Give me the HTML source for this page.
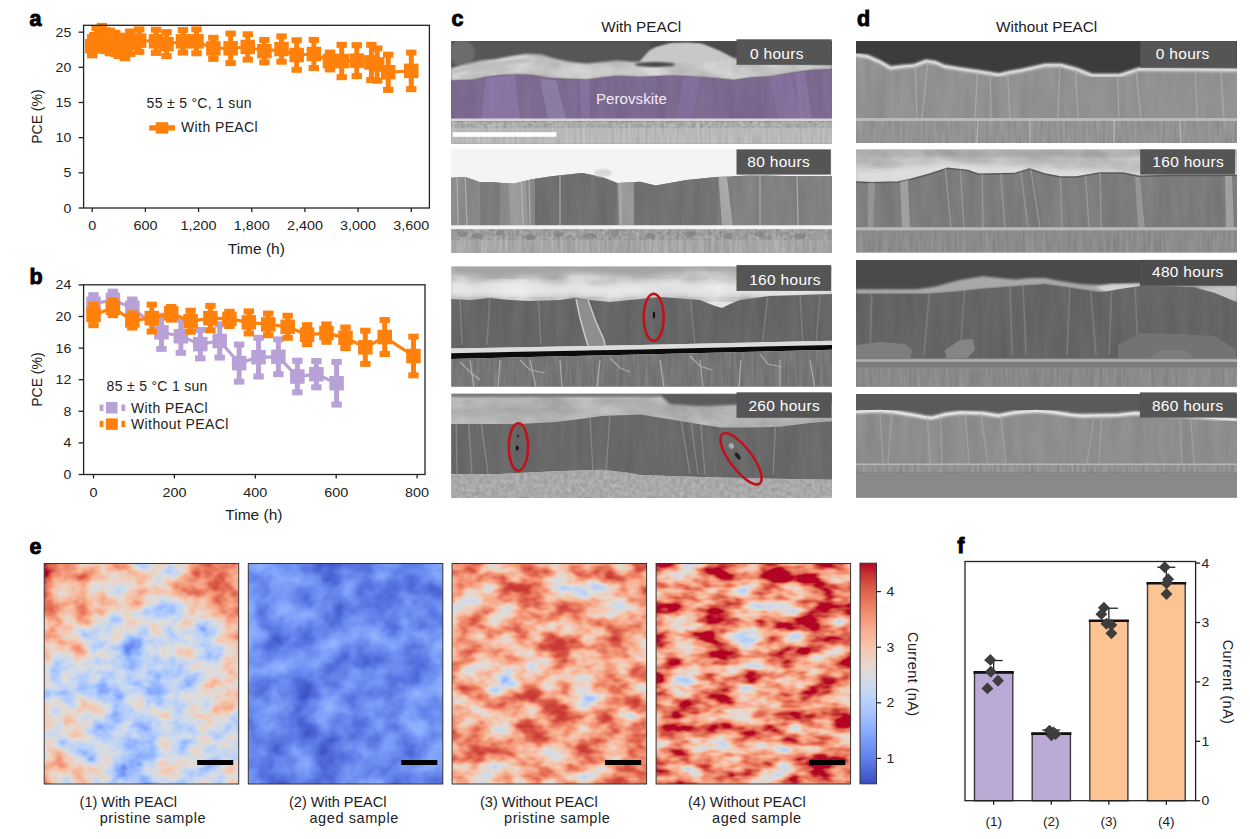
<!DOCTYPE html>
<html><head><meta charset="utf-8"><title>Figure</title>
<style>
html,body{margin:0;padding:0;background:#fff;width:1250px;height:839px;overflow:hidden;}
svg{display:block;font-family:"Liberation Sans", sans-serif;}
</style></head>
<body>
<svg width="1250" height="839" viewBox="0 0 1250 839">
<rect x="0" y="0" width="1250" height="839" fill="#ffffff"/>
<defs>
<clipPath id="cc1"><rect x="451.2" y="41" width="380.8" height="102.6"/></clipPath>
<clipPath id="cc2"><rect x="451.2" y="149" width="380.8" height="104"/></clipPath>
<clipPath id="cc3"><rect x="451.2" y="266.4" width="380.8" height="120.4"/></clipPath>
<clipPath id="cc4"><rect x="451.2" y="393.8" width="380.8" height="104.1"/></clipPath>
<clipPath id="cd1"><rect x="856" y="41.1" width="381" height="101.9"/></clipPath>
<clipPath id="cd2"><rect x="856" y="149.6" width="381" height="102.9"/></clipPath>
<clipPath id="cd3"><rect x="856" y="259.9" width="381" height="126.6"/></clipPath>
<clipPath id="cd4"><rect x="856" y="393.9" width="381" height="103.5"/></clipPath>
<filter id="gV" x="0" y="0" width="1" height="1" color-interpolation-filters="sRGB">
  <feTurbulence type="fractalNoise" baseFrequency="0.09 0.012" numOctaves="3" seed="7"/>
  <feColorMatrix type="matrix" values="1 0 0 0 0  1 0 0 0 0  1 0 0 0 0  0 0 0 0 1"/>
</filter>
<filter id="gV2" x="0" y="0" width="1" height="1" color-interpolation-filters="sRGB">
  <feTurbulence type="fractalNoise" baseFrequency="0.35 0.03" numOctaves="2" seed="11"/>
  <feColorMatrix type="matrix" values="1 0 0 0 0  1 0 0 0 0  1 0 0 0 0  0 0 0 0 1"/>
</filter>
<filter id="gC" x="0" y="0" width="1" height="1" color-interpolation-filters="sRGB">
  <feTurbulence type="fractalNoise" baseFrequency="0.03 0.06" numOctaves="4" seed="3"/>
  <feColorMatrix type="matrix" values="1 0 0 0 0  1 0 0 0 0  1 0 0 0 0  0 0 0 0 1"/>
</filter>
<filter id="gF" x="0" y="0" width="1" height="1" color-interpolation-filters="sRGB">
  <feTurbulence type="fractalNoise" baseFrequency="0.25 0.25" numOctaves="3" seed="5"/>
  <feColorMatrix type="matrix" values="1 0 0 0 0  1 0 0 0 0  1 0 0 0 0  0 0 0 0 1"/>
</filter>
<filter id="blur1" x="-5%" y="-5%" width="110%" height="110%"><feGaussianBlur stdDeviation="1.2"/></filter>
<filter id="blur05" x="-10%" y="-5%" width="120%" height="110%"><feGaussianBlur stdDeviation="0.6"/></filter>
<filter id="blur2" x="-5%" y="-5%" width="110%" height="110%"><feGaussianBlur stdDeviation="2.5"/></filter>
<filter id="hm0" filterUnits="userSpaceOnUse" x="44.2" y="563.5" width="194.5" height="220.5" color-interpolation-filters="sRGB">
<feGaussianBlur in="SourceGraphic" stdDeviation="9" result="b"/>
<feTurbulence type="fractalNoise" baseFrequency="0.04 0.05" numOctaves="3" seed="4" result="t"/>
<feColorMatrix in="t" type="matrix" values="1 0 0 0 0  1 0 0 0 0  1 0 0 0 0  0 0 0 0 1" result="tg"/>
<feComposite in="b" in2="tg" operator="arithmetic" k1="0" k2="1" k3="0.68" k4="-0.34" result="v"/>
<feComponentTransfer in="v"><feFuncR type="table" tableValues="0.230 0.253 0.276 0.304 0.329 0.353 0.384 0.410 0.436 0.468 0.495 0.522 0.554 0.581 0.609 0.641 0.667 0.693 0.724 0.749 0.773 0.801 0.822 0.843 0.867 0.888 0.906 0.926 0.938 0.949 0.960 0.965 0.968 0.970 0.968 0.964 0.957 0.948 0.937 0.921 0.906 0.888 0.865 0.844 0.820 0.791 0.764 0.735 0.706"/><feFuncG type="table" tableValues="0.299 0.333 0.367 0.407 0.440 0.472 0.510 0.541 0.571 0.606 0.633 0.660 0.690 0.713 0.736 0.761 0.779 0.796 0.815 0.828 0.839 0.850 0.857 0.862 0.864 0.854 0.842 0.826 0.809 0.791 0.767 0.745 0.721 0.690 0.663 0.634 0.598 0.566 0.533 0.491 0.455 0.418 0.371 0.330 0.287 0.231 0.179 0.104 0.016"/><feFuncB type="table" tableValues="0.754 0.784 0.813 0.845 0.870 0.893 0.918 0.936 0.952 0.969 0.979 0.988 0.996 0.998 0.999 0.998 0.993 0.986 0.976 0.963 0.949 0.930 0.911 0.890 0.863 0.835 0.806 0.771 0.741 0.711 0.674 0.643 0.612 0.575 0.544 0.514 0.477 0.447 0.418 0.383 0.355 0.328 0.296 0.270 0.245 0.216 0.193 0.171 0.150"/><feFuncA type="linear" slope="0" intercept="1"/></feComponentTransfer>
</filter><clipPath id="hc0"><rect x="44.2" y="563.5" width="194.5" height="220.5"/></clipPath><filter id="hm1" filterUnits="userSpaceOnUse" x="248.3" y="563.5" width="194.5" height="220.5" color-interpolation-filters="sRGB">
<feGaussianBlur in="SourceGraphic" stdDeviation="9" result="b"/>
<feTurbulence type="fractalNoise" baseFrequency="0.035 0.04" numOctaves="3" seed="9" result="t"/>
<feColorMatrix in="t" type="matrix" values="1 0 0 0 0  1 0 0 0 0  1 0 0 0 0  0 0 0 0 1" result="tg"/>
<feComposite in="b" in2="tg" operator="arithmetic" k1="0" k2="1" k3="0.32" k4="-0.16" result="v"/>
<feComponentTransfer in="v"><feFuncR type="table" tableValues="0.230 0.253 0.276 0.304 0.329 0.353 0.384 0.410 0.436 0.468 0.495 0.522 0.554 0.581 0.609 0.641 0.667 0.693 0.724 0.749 0.773 0.801 0.822 0.843 0.867 0.888 0.906 0.926 0.938 0.949 0.960 0.965 0.968 0.970 0.968 0.964 0.957 0.948 0.937 0.921 0.906 0.888 0.865 0.844 0.820 0.791 0.764 0.735 0.706"/><feFuncG type="table" tableValues="0.299 0.333 0.367 0.407 0.440 0.472 0.510 0.541 0.571 0.606 0.633 0.660 0.690 0.713 0.736 0.761 0.779 0.796 0.815 0.828 0.839 0.850 0.857 0.862 0.864 0.854 0.842 0.826 0.809 0.791 0.767 0.745 0.721 0.690 0.663 0.634 0.598 0.566 0.533 0.491 0.455 0.418 0.371 0.330 0.287 0.231 0.179 0.104 0.016"/><feFuncB type="table" tableValues="0.754 0.784 0.813 0.845 0.870 0.893 0.918 0.936 0.952 0.969 0.979 0.988 0.996 0.998 0.999 0.998 0.993 0.986 0.976 0.963 0.949 0.930 0.911 0.890 0.863 0.835 0.806 0.771 0.741 0.711 0.674 0.643 0.612 0.575 0.544 0.514 0.477 0.447 0.418 0.383 0.355 0.328 0.296 0.270 0.245 0.216 0.193 0.171 0.150"/><feFuncA type="linear" slope="0" intercept="1"/></feComponentTransfer>
</filter><clipPath id="hc1"><rect x="248.3" y="563.5" width="194.5" height="220.5"/></clipPath><filter id="hm2" filterUnits="userSpaceOnUse" x="452.1" y="563.5" width="194.5" height="220.5" color-interpolation-filters="sRGB">
<feGaussianBlur in="SourceGraphic" stdDeviation="9" result="b"/>
<feTurbulence type="fractalNoise" baseFrequency="0.035 0.055" numOctaves="3" seed="21" result="t"/>
<feColorMatrix in="t" type="matrix" values="1 0 0 0 0  1 0 0 0 0  1 0 0 0 0  0 0 0 0 1" result="tg"/>
<feComposite in="b" in2="tg" operator="arithmetic" k1="0" k2="1" k3="0.9" k4="-0.45" result="v"/>
<feComponentTransfer in="v"><feFuncR type="table" tableValues="0.230 0.253 0.276 0.304 0.329 0.353 0.384 0.410 0.436 0.468 0.495 0.522 0.554 0.581 0.609 0.641 0.667 0.693 0.724 0.749 0.773 0.801 0.822 0.843 0.867 0.888 0.906 0.926 0.938 0.949 0.960 0.965 0.968 0.970 0.968 0.964 0.957 0.948 0.937 0.924 0.906 0.892 0.873 0.857 0.839 0.825 0.811 0.801 0.791"/><feFuncG type="table" tableValues="0.299 0.333 0.367 0.407 0.440 0.472 0.510 0.541 0.571 0.606 0.633 0.660 0.690 0.713 0.736 0.761 0.779 0.796 0.815 0.828 0.839 0.850 0.857 0.862 0.864 0.854 0.842 0.826 0.809 0.791 0.767 0.745 0.721 0.690 0.663 0.634 0.598 0.566 0.533 0.499 0.455 0.425 0.387 0.355 0.322 0.296 0.269 0.251 0.231"/><feFuncB type="table" tableValues="0.754 0.784 0.813 0.845 0.870 0.893 0.918 0.936 0.952 0.969 0.979 0.988 0.996 0.998 0.999 0.998 0.993 0.986 0.976 0.963 0.949 0.930 0.911 0.890 0.863 0.835 0.806 0.771 0.741 0.711 0.674 0.643 0.612 0.575 0.544 0.514 0.477 0.447 0.418 0.389 0.355 0.333 0.306 0.285 0.265 0.250 0.235 0.226 0.216"/><feFuncA type="linear" slope="0" intercept="1"/></feComponentTransfer>
</filter><clipPath id="hc2"><rect x="452.1" y="563.5" width="194.5" height="220.5"/></clipPath><filter id="hm3" filterUnits="userSpaceOnUse" x="656.1" y="563.5" width="194.5" height="220.5" color-interpolation-filters="sRGB">
<feGaussianBlur in="SourceGraphic" stdDeviation="9" result="b"/>
<feTurbulence type="fractalNoise" baseFrequency="0.03 0.065" numOctaves="3" seed="33" result="t"/>
<feColorMatrix in="t" type="matrix" values="1 0 0 0 0  1 0 0 0 0  1 0 0 0 0  0 0 0 0 1" result="tg"/>
<feComposite in="b" in2="tg" operator="arithmetic" k1="0" k2="1" k3="1.2" k4="-0.6" result="v"/>
<feComponentTransfer in="v"><feFuncR type="table" tableValues="0.625 0.625 0.625 0.630 0.630 0.630 0.635 0.635 0.641 0.646 0.651 0.657 0.662 0.673 0.683 0.693 0.709 0.724 0.739 0.759 0.777 0.801 0.822 0.843 0.867 0.888 0.906 0.926 0.938 0.949 0.960 0.965 0.968 0.970 0.968 0.964 0.957 0.948 0.937 0.921 0.906 0.888 0.865 0.844 0.820 0.791 0.764 0.735 0.706"/><feFuncG type="table" tableValues="0.748 0.748 0.748 0.753 0.753 0.753 0.757 0.757 0.761 0.764 0.768 0.772 0.775 0.783 0.790 0.796 0.806 0.815 0.823 0.833 0.841 0.850 0.857 0.862 0.864 0.854 0.842 0.826 0.809 0.791 0.767 0.745 0.721 0.690 0.663 0.634 0.598 0.566 0.533 0.491 0.455 0.418 0.371 0.330 0.287 0.231 0.179 0.104 0.016"/><feFuncB type="table" tableValues="0.999 0.999 0.999 0.999 0.999 0.999 0.998 0.998 0.998 0.997 0.996 0.995 0.994 0.992 0.990 0.986 0.981 0.976 0.968 0.958 0.946 0.930 0.911 0.890 0.863 0.835 0.806 0.771 0.741 0.711 0.674 0.643 0.612 0.575 0.544 0.514 0.477 0.447 0.418 0.383 0.355 0.328 0.296 0.270 0.245 0.216 0.193 0.171 0.150"/><feFuncA type="linear" slope="0" intercept="1"/></feComponentTransfer>
</filter><clipPath id="hc3"><rect x="656.1" y="563.5" width="194.5" height="220.5"/></clipPath><linearGradient id="cbar" x1="0" y1="0" x2="0" y2="1"><stop offset="0" stop-color="#b40426"/><stop offset="0.06" stop-color="#ca3b37"/><stop offset="0.12" stop-color="#dd5f4b"/><stop offset="0.19" stop-color="#eb7d62"/><stop offset="0.25" stop-color="#f4987a"/><stop offset="0.31" stop-color="#f7b093"/><stop offset="0.38" stop-color="#f5c4ac"/><stop offset="0.44" stop-color="#ecd3c5"/><stop offset="0.5" stop-color="#dddcdc"/><stop offset="0.56" stop-color="#ccd9ed"/><stop offset="0.62" stop-color="#b9d0f9"/><stop offset="0.69" stop-color="#a3c2fe"/><stop offset="0.75" stop-color="#8db0fe"/><stop offset="0.81" stop-color="#779af7"/><stop offset="0.88" stop-color="#6282ea"/><stop offset="0.94" stop-color="#4e68d8"/><stop offset="1" stop-color="#3b4cc0"/></linearGradient></defs>
<text x="29.5" y="25.9" font-size="21.5" text-anchor="start" fill="#000" font-weight="bold" stroke="#000" stroke-width="0.9">a</text><polyline points="92.2,46.24 96.63,39.21 101.95,37.8 105.5,40.61 109.93,42.02 115.24,43.43 118.79,46.24 124.99,46.94 130.31,42.72 139.18,40.61 156.02,41.32 166.47,44.13 182.96,41.32 196.52,41.32 213.36,48.35 230.65,48.35 247.75,46.94 264.41,51.16 281.52,49.05 296.68,55.03 313.87,53.98 330,61.01 341.7,61.01 356.77,60.66 371.39,62.42 377.16,64.53 388.24,72.26 411.28,70.86" fill="none" stroke="#ff800a" stroke-width="3" stroke-linejoin="round"/><rect x="89.7" y="37.1" width="5" height="18.29" fill="#ff800a"/><rect x="87" y="34.1" width="10.4" height="6" fill="#ff800a"/><rect x="87" y="52.38" width="10.4" height="6" fill="#ff800a"/><rect x="84.95" y="38.99" width="14.5" height="14.5" fill="#ff800a"/><rect x="94.13" y="27.96" width="5" height="22.51" fill="#ff800a"/><rect x="91.43" y="24.96" width="10.4" height="6" fill="#ff800a"/><rect x="91.43" y="47.46" width="10.4" height="6" fill="#ff800a"/><rect x="89.38" y="31.96" width="14.5" height="14.5" fill="#ff800a"/><rect x="99.45" y="25.85" width="5" height="23.91" fill="#ff800a"/><rect x="96.75" y="22.85" width="10.4" height="6" fill="#ff800a"/><rect x="96.75" y="46.76" width="10.4" height="6" fill="#ff800a"/><rect x="94.7" y="30.55" width="14.5" height="14.5" fill="#ff800a"/><rect x="103" y="30.07" width="5" height="21.1" fill="#ff800a"/><rect x="100.3" y="27.07" width="10.4" height="6" fill="#ff800a"/><rect x="100.3" y="48.16" width="10.4" height="6" fill="#ff800a"/><rect x="98.25" y="33.36" width="14.5" height="14.5" fill="#ff800a"/><rect x="107.43" y="30.77" width="5" height="22.51" fill="#ff800a"/><rect x="104.73" y="27.77" width="10.4" height="6" fill="#ff800a"/><rect x="104.73" y="50.27" width="10.4" height="6" fill="#ff800a"/><rect x="102.68" y="34.77" width="14.5" height="14.5" fill="#ff800a"/><rect x="112.74" y="32.88" width="5" height="21.1" fill="#ff800a"/><rect x="110.04" y="29.88" width="10.4" height="6" fill="#ff800a"/><rect x="110.04" y="50.98" width="10.4" height="6" fill="#ff800a"/><rect x="107.99" y="36.18" width="14.5" height="14.5" fill="#ff800a"/><rect x="116.29" y="36.39" width="5" height="19.69" fill="#ff800a"/><rect x="113.59" y="33.39" width="10.4" height="6" fill="#ff800a"/><rect x="113.59" y="53.09" width="10.4" height="6" fill="#ff800a"/><rect x="111.54" y="38.99" width="14.5" height="14.5" fill="#ff800a"/><rect x="122.49" y="35.69" width="5" height="22.51" fill="#ff800a"/><rect x="119.79" y="32.69" width="10.4" height="6" fill="#ff800a"/><rect x="119.79" y="55.2" width="10.4" height="6" fill="#ff800a"/><rect x="117.74" y="39.69" width="14.5" height="14.5" fill="#ff800a"/><rect x="127.81" y="31.47" width="5" height="22.51" fill="#ff800a"/><rect x="125.11" y="28.47" width="10.4" height="6" fill="#ff800a"/><rect x="125.11" y="50.98" width="10.4" height="6" fill="#ff800a"/><rect x="123.06" y="35.47" width="14.5" height="14.5" fill="#ff800a"/><rect x="136.68" y="29.36" width="5" height="22.51" fill="#ff800a"/><rect x="133.98" y="26.36" width="10.4" height="6" fill="#ff800a"/><rect x="133.98" y="48.87" width="10.4" height="6" fill="#ff800a"/><rect x="131.93" y="33.36" width="14.5" height="14.5" fill="#ff800a"/><rect x="153.52" y="29.71" width="5" height="23.21" fill="#ff800a"/><rect x="150.82" y="26.71" width="10.4" height="6" fill="#ff800a"/><rect x="150.82" y="49.92" width="10.4" height="6" fill="#ff800a"/><rect x="148.77" y="34.07" width="14.5" height="14.5" fill="#ff800a"/><rect x="163.97" y="32.17" width="5" height="23.91" fill="#ff800a"/><rect x="161.27" y="29.17" width="10.4" height="6" fill="#ff800a"/><rect x="161.27" y="53.09" width="10.4" height="6" fill="#ff800a"/><rect x="159.22" y="36.88" width="14.5" height="14.5" fill="#ff800a"/><rect x="180.46" y="30.07" width="5" height="22.51" fill="#ff800a"/><rect x="177.76" y="27.07" width="10.4" height="6" fill="#ff800a"/><rect x="177.76" y="49.57" width="10.4" height="6" fill="#ff800a"/><rect x="175.71" y="34.07" width="14.5" height="14.5" fill="#ff800a"/><rect x="194.02" y="29.36" width="5" height="23.91" fill="#ff800a"/><rect x="191.32" y="26.36" width="10.4" height="6" fill="#ff800a"/><rect x="191.32" y="50.27" width="10.4" height="6" fill="#ff800a"/><rect x="189.27" y="34.07" width="14.5" height="14.5" fill="#ff800a"/><rect x="210.86" y="37.8" width="5" height="21.1" fill="#ff800a"/><rect x="208.16" y="34.8" width="10.4" height="6" fill="#ff800a"/><rect x="208.16" y="55.9" width="10.4" height="6" fill="#ff800a"/><rect x="206.11" y="41.1" width="14.5" height="14.5" fill="#ff800a"/><rect x="228.15" y="33.58" width="5" height="29.54" fill="#ff800a"/><rect x="225.45" y="30.58" width="10.4" height="6" fill="#ff800a"/><rect x="225.45" y="60.12" width="10.4" height="6" fill="#ff800a"/><rect x="223.4" y="41.1" width="14.5" height="14.5" fill="#ff800a"/><rect x="245.25" y="34.28" width="5" height="25.32" fill="#ff800a"/><rect x="242.55" y="31.28" width="10.4" height="6" fill="#ff800a"/><rect x="242.55" y="56.6" width="10.4" height="6" fill="#ff800a"/><rect x="240.5" y="39.69" width="14.5" height="14.5" fill="#ff800a"/><rect x="261.91" y="39.91" width="5" height="22.51" fill="#ff800a"/><rect x="259.21" y="36.91" width="10.4" height="6" fill="#ff800a"/><rect x="259.21" y="59.42" width="10.4" height="6" fill="#ff800a"/><rect x="257.16" y="43.91" width="14.5" height="14.5" fill="#ff800a"/><rect x="279.02" y="36.39" width="5" height="25.32" fill="#ff800a"/><rect x="276.32" y="33.39" width="10.4" height="6" fill="#ff800a"/><rect x="276.32" y="58.71" width="10.4" height="6" fill="#ff800a"/><rect x="274.27" y="41.8" width="14.5" height="14.5" fill="#ff800a"/><rect x="294.18" y="40.26" width="5" height="29.54" fill="#ff800a"/><rect x="291.48" y="37.26" width="10.4" height="6" fill="#ff800a"/><rect x="291.48" y="66.8" width="10.4" height="6" fill="#ff800a"/><rect x="289.43" y="47.78" width="14.5" height="14.5" fill="#ff800a"/><rect x="311.37" y="39.91" width="5" height="28.13" fill="#ff800a"/><rect x="308.67" y="36.91" width="10.4" height="6" fill="#ff800a"/><rect x="308.67" y="65.04" width="10.4" height="6" fill="#ff800a"/><rect x="306.62" y="46.73" width="14.5" height="14.5" fill="#ff800a"/><rect x="327.5" y="52.57" width="5" height="16.88" fill="#ff800a"/><rect x="324.8" y="49.57" width="10.4" height="6" fill="#ff800a"/><rect x="324.8" y="66.45" width="10.4" height="6" fill="#ff800a"/><rect x="322.75" y="53.76" width="14.5" height="14.5" fill="#ff800a"/><rect x="339.2" y="44.83" width="5" height="32.35" fill="#ff800a"/><rect x="336.5" y="41.83" width="10.4" height="6" fill="#ff800a"/><rect x="336.5" y="74.19" width="10.4" height="6" fill="#ff800a"/><rect x="334.45" y="53.76" width="14.5" height="14.5" fill="#ff800a"/><rect x="354.27" y="45.19" width="5" height="30.95" fill="#ff800a"/><rect x="351.57" y="42.19" width="10.4" height="6" fill="#ff800a"/><rect x="351.57" y="73.13" width="10.4" height="6" fill="#ff800a"/><rect x="349.52" y="53.41" width="14.5" height="14.5" fill="#ff800a"/><rect x="368.89" y="44.83" width="5" height="35.17" fill="#ff800a"/><rect x="366.19" y="41.83" width="10.4" height="6" fill="#ff800a"/><rect x="366.19" y="77" width="10.4" height="6" fill="#ff800a"/><rect x="364.14" y="55.17" width="14.5" height="14.5" fill="#ff800a"/><rect x="374.66" y="48.35" width="5" height="32.35" fill="#ff800a"/><rect x="371.96" y="45.35" width="10.4" height="6" fill="#ff800a"/><rect x="371.96" y="77.7" width="10.4" height="6" fill="#ff800a"/><rect x="369.91" y="57.28" width="14.5" height="14.5" fill="#ff800a"/><rect x="385.74" y="54.68" width="5" height="35.16" fill="#ff800a"/><rect x="383.04" y="51.68" width="10.4" height="6" fill="#ff800a"/><rect x="383.04" y="86.85" width="10.4" height="6" fill="#ff800a"/><rect x="380.99" y="65.01" width="14.5" height="14.5" fill="#ff800a"/><rect x="408.78" y="52.57" width="5" height="36.57" fill="#ff800a"/><rect x="406.08" y="49.57" width="10.4" height="6" fill="#ff800a"/><rect x="406.08" y="86.14" width="10.4" height="6" fill="#ff800a"/><rect x="404.03" y="63.61" width="14.5" height="14.5" fill="#ff800a"/><rect x="83.6" y="25.3" width="345.8" height="182.7" fill="none" stroke="#222" stroke-width="1.3"/><line x1="78.6" y1="208" x2="83.6" y2="208" stroke="#222" stroke-width="1.3"/><text x="0" y="0" transform="translate(71.3,212.5) scale(1.13,1)" font-size="12.5" text-anchor="end" fill="#222" font-weight="normal" >0</text><line x1="78.6" y1="172.84" x2="83.6" y2="172.84" stroke="#222" stroke-width="1.3"/><text x="0" y="0" transform="translate(71.3,177.34) scale(1.13,1)" font-size="12.5" text-anchor="end" fill="#222" font-weight="normal" >5</text><line x1="78.6" y1="137.67" x2="83.6" y2="137.67" stroke="#222" stroke-width="1.3"/><text x="0" y="0" transform="translate(71.3,142.17) scale(1.13,1)" font-size="12.5" text-anchor="end" fill="#222" font-weight="normal" >10</text><line x1="78.6" y1="102.5" x2="83.6" y2="102.5" stroke="#222" stroke-width="1.3"/><text x="0" y="0" transform="translate(71.3,107) scale(1.13,1)" font-size="12.5" text-anchor="end" fill="#222" font-weight="normal" >15</text><line x1="78.6" y1="67.34" x2="83.6" y2="67.34" stroke="#222" stroke-width="1.3"/><text x="0" y="0" transform="translate(71.3,71.84) scale(1.13,1)" font-size="12.5" text-anchor="end" fill="#222" font-weight="normal" >20</text><line x1="78.6" y1="32.17" x2="83.6" y2="32.17" stroke="#222" stroke-width="1.3"/><text x="0" y="0" transform="translate(71.3,36.67) scale(1.13,1)" font-size="12.5" text-anchor="end" fill="#222" font-weight="normal" >25</text><line x1="92.2" y1="208" x2="92.2" y2="212" stroke="#222" stroke-width="1.3"/><text x="0" y="0" transform="translate(92.2,229.8) scale(1.15,1)" font-size="12.5" text-anchor="middle" fill="#222" font-weight="normal" >0</text><line x1="145.38" y1="208" x2="145.38" y2="212" stroke="#222" stroke-width="1.3"/><text x="0" y="0" transform="translate(145.38,229.8) scale(1.15,1)" font-size="12.5" text-anchor="middle" fill="#222" font-weight="normal" >600</text><line x1="198.56" y1="208" x2="198.56" y2="212" stroke="#222" stroke-width="1.3"/><text x="0" y="0" transform="translate(198.56,229.8) scale(1.15,1)" font-size="12.5" text-anchor="middle" fill="#222" font-weight="normal" >1,200</text><line x1="251.74" y1="208" x2="251.74" y2="212" stroke="#222" stroke-width="1.3"/><text x="0" y="0" transform="translate(251.74,229.8) scale(1.15,1)" font-size="12.5" text-anchor="middle" fill="#222" font-weight="normal" >1,800</text><line x1="304.92" y1="208" x2="304.92" y2="212" stroke="#222" stroke-width="1.3"/><text x="0" y="0" transform="translate(304.92,229.8) scale(1.15,1)" font-size="12.5" text-anchor="middle" fill="#222" font-weight="normal" >2,400</text><line x1="358.1" y1="208" x2="358.1" y2="212" stroke="#222" stroke-width="1.3"/><text x="0" y="0" transform="translate(358.1,229.8) scale(1.15,1)" font-size="12.5" text-anchor="middle" fill="#222" font-weight="normal" >3,000</text><line x1="411.28" y1="208" x2="411.28" y2="212" stroke="#222" stroke-width="1.3"/><text x="0" y="0" transform="translate(411.28,229.8) scale(1.15,1)" font-size="12.5" text-anchor="middle" fill="#222" font-weight="normal" >3,600</text><text x="0" y="0" transform="translate(256.3,253.7) scale(1.07,1)" font-size="14.5" text-anchor="middle" fill="#222" font-weight="normal" >Time (h)</text><text x="0" y="0" font-size="14" text-anchor="middle" fill="#222" font-weight="normal" transform="translate(42,116.6) rotate(-90)">PCE (%)</text><text x="146.6" y="107.8" font-size="14" text-anchor="start" fill="#222" font-weight="normal" letter-spacing="0.3">55 ± 5 °C, 1 sun</text><rect x="149.2" y="125.2" width="25.8" height="5.4" fill="#ff800a"/><rect x="155.8" y="122.2" width="12.4" height="11.4" fill="#ff800a"/><text x="181" y="132.4" font-size="14" text-anchor="start" fill="#222" font-weight="normal" letter-spacing="0.4">With PEACl</text>
<text x="29.5" y="283.8" font-size="21.5" text-anchor="start" fill="#000" font-weight="bold" stroke="#000" stroke-width="0.9">b</text><polyline points="93.5,303.86 112.92,299.91 132.33,307.81 161.46,332.3 180.87,336.25 200.29,344.15 219.7,340.99 239.12,363.11 258.54,357.19 278.36,356.79 297.37,376.54 316.38,374.17 336.6,383.25" fill="none" stroke="#b7a1d6" stroke-width="3.2" stroke-linejoin="round"/><rect x="91" y="295.17" width="5" height="17.38" fill="#b7a1d6"/><rect x="88.3" y="292.17" width="10.4" height="6" fill="#b7a1d6"/><rect x="88.3" y="309.55" width="10.4" height="6" fill="#b7a1d6"/><rect x="86.25" y="296.61" width="14.5" height="14.5" fill="#b7a1d6"/><rect x="110.42" y="291.62" width="5" height="16.59" fill="#b7a1d6"/><rect x="107.72" y="288.62" width="10.4" height="6" fill="#b7a1d6"/><rect x="107.72" y="305.2" width="10.4" height="6" fill="#b7a1d6"/><rect x="105.67" y="292.66" width="14.5" height="14.5" fill="#b7a1d6"/><rect x="129.83" y="299.51" width="5" height="16.59" fill="#b7a1d6"/><rect x="127.13" y="296.51" width="10.4" height="6" fill="#b7a1d6"/><rect x="127.13" y="313.1" width="10.4" height="6" fill="#b7a1d6"/><rect x="125.08" y="300.56" width="14.5" height="14.5" fill="#b7a1d6"/><rect x="158.96" y="315.71" width="5" height="33.18" fill="#b7a1d6"/><rect x="156.26" y="312.71" width="10.4" height="6" fill="#b7a1d6"/><rect x="156.26" y="345.89" width="10.4" height="6" fill="#b7a1d6"/><rect x="154.21" y="325.05" width="14.5" height="14.5" fill="#b7a1d6"/><rect x="178.37" y="319.66" width="5" height="33.18" fill="#b7a1d6"/><rect x="175.67" y="316.66" width="10.4" height="6" fill="#b7a1d6"/><rect x="175.67" y="349.84" width="10.4" height="6" fill="#b7a1d6"/><rect x="173.62" y="329" width="14.5" height="14.5" fill="#b7a1d6"/><rect x="197.79" y="329.93" width="5" height="28.44" fill="#b7a1d6"/><rect x="195.09" y="326.93" width="10.4" height="6" fill="#b7a1d6"/><rect x="195.09" y="355.37" width="10.4" height="6" fill="#b7a1d6"/><rect x="193.04" y="336.9" width="14.5" height="14.5" fill="#b7a1d6"/><rect x="217.2" y="324.4" width="5" height="33.18" fill="#b7a1d6"/><rect x="214.5" y="321.4" width="10.4" height="6" fill="#b7a1d6"/><rect x="214.5" y="354.58" width="10.4" height="6" fill="#b7a1d6"/><rect x="212.45" y="333.74" width="14.5" height="14.5" fill="#b7a1d6"/><rect x="236.62" y="344.54" width="5" height="37.13" fill="#b7a1d6"/><rect x="233.92" y="341.54" width="10.4" height="6" fill="#b7a1d6"/><rect x="233.92" y="378.68" width="10.4" height="6" fill="#b7a1d6"/><rect x="231.87" y="355.86" width="14.5" height="14.5" fill="#b7a1d6"/><rect x="256.04" y="337.83" width="5" height="38.71" fill="#b7a1d6"/><rect x="253.34" y="334.83" width="10.4" height="6" fill="#b7a1d6"/><rect x="253.34" y="373.54" width="10.4" height="6" fill="#b7a1d6"/><rect x="251.29" y="349.94" width="14.5" height="14.5" fill="#b7a1d6"/><rect x="275.86" y="339.41" width="5" height="34.76" fill="#b7a1d6"/><rect x="273.16" y="336.41" width="10.4" height="6" fill="#b7a1d6"/><rect x="273.16" y="371.17" width="10.4" height="6" fill="#b7a1d6"/><rect x="271.11" y="349.54" width="14.5" height="14.5" fill="#b7a1d6"/><rect x="294.87" y="360.74" width="5" height="31.6" fill="#b7a1d6"/><rect x="292.17" y="357.74" width="10.4" height="6" fill="#b7a1d6"/><rect x="292.17" y="389.34" width="10.4" height="6" fill="#b7a1d6"/><rect x="290.12" y="369.29" width="14.5" height="14.5" fill="#b7a1d6"/><rect x="313.88" y="360.98" width="5" height="26.39" fill="#b7a1d6"/><rect x="311.18" y="357.98" width="10.4" height="6" fill="#b7a1d6"/><rect x="311.18" y="384.36" width="10.4" height="6" fill="#b7a1d6"/><rect x="309.13" y="366.92" width="14.5" height="14.5" fill="#b7a1d6"/><rect x="334.1" y="361.93" width="5" height="42.66" fill="#b7a1d6"/><rect x="331.4" y="358.93" width="10.4" height="6" fill="#b7a1d6"/><rect x="331.4" y="401.58" width="10.4" height="6" fill="#b7a1d6"/><rect x="329.35" y="376" width="14.5" height="14.5" fill="#b7a1d6"/><polyline points="93.5,314.92 112.92,307.81 132.33,320.45 151.75,318.08 171.16,313.34 190.58,321.24 210.4,318.08 229.41,318.87 248.83,322.42 268.24,324.4 287.66,326.77 307.08,334.67 326.49,333.09 345.5,337.83 365.32,347.31 384.74,337.04 413.46,356" fill="none" stroke="#ff800a" stroke-width="3.2" stroke-linejoin="round"/><rect x="91" y="304.65" width="5" height="20.54" fill="#ff800a"/><rect x="88.3" y="301.65" width="10.4" height="6" fill="#ff800a"/><rect x="88.3" y="322.19" width="10.4" height="6" fill="#ff800a"/><rect x="86.25" y="307.67" width="14.5" height="14.5" fill="#ff800a"/><rect x="110.42" y="300.46" width="5" height="14.69" fill="#ff800a"/><rect x="107.72" y="297.46" width="10.4" height="6" fill="#ff800a"/><rect x="107.72" y="312.16" width="10.4" height="6" fill="#ff800a"/><rect x="105.67" y="300.56" width="14.5" height="14.5" fill="#ff800a"/><rect x="129.83" y="313.34" width="5" height="14.22" fill="#ff800a"/><rect x="127.13" y="310.34" width="10.4" height="6" fill="#ff800a"/><rect x="127.13" y="324.56" width="10.4" height="6" fill="#ff800a"/><rect x="125.08" y="313.2" width="14.5" height="14.5" fill="#ff800a"/><rect x="149.25" y="304.65" width="5" height="26.86" fill="#ff800a"/><rect x="146.55" y="301.65" width="10.4" height="6" fill="#ff800a"/><rect x="146.55" y="328.51" width="10.4" height="6" fill="#ff800a"/><rect x="144.5" y="310.83" width="14.5" height="14.5" fill="#ff800a"/><rect x="168.66" y="307.02" width="5" height="12.64" fill="#ff800a"/><rect x="165.96" y="304.02" width="10.4" height="6" fill="#ff800a"/><rect x="165.96" y="316.66" width="10.4" height="6" fill="#ff800a"/><rect x="163.91" y="306.09" width="14.5" height="14.5" fill="#ff800a"/><rect x="188.08" y="310.73" width="5" height="21.01" fill="#ff800a"/><rect x="185.38" y="307.73" width="10.4" height="6" fill="#ff800a"/><rect x="185.38" y="328.75" width="10.4" height="6" fill="#ff800a"/><rect x="183.33" y="313.99" width="14.5" height="14.5" fill="#ff800a"/><rect x="207.9" y="305.83" width="5" height="24.49" fill="#ff800a"/><rect x="205.2" y="302.83" width="10.4" height="6" fill="#ff800a"/><rect x="205.2" y="327.32" width="10.4" height="6" fill="#ff800a"/><rect x="203.15" y="310.83" width="14.5" height="14.5" fill="#ff800a"/><rect x="226.91" y="311.76" width="5" height="14.22" fill="#ff800a"/><rect x="224.21" y="308.76" width="10.4" height="6" fill="#ff800a"/><rect x="224.21" y="322.98" width="10.4" height="6" fill="#ff800a"/><rect x="222.16" y="311.62" width="14.5" height="14.5" fill="#ff800a"/><rect x="246.33" y="311.37" width="5" height="22.12" fill="#ff800a"/><rect x="243.63" y="308.37" width="10.4" height="6" fill="#ff800a"/><rect x="243.63" y="330.48" width="10.4" height="6" fill="#ff800a"/><rect x="241.58" y="315.17" width="14.5" height="14.5" fill="#ff800a"/><rect x="265.74" y="313.58" width="5" height="21.65" fill="#ff800a"/><rect x="263.04" y="310.58" width="10.4" height="6" fill="#ff800a"/><rect x="263.04" y="332.22" width="10.4" height="6" fill="#ff800a"/><rect x="260.99" y="317.15" width="14.5" height="14.5" fill="#ff800a"/><rect x="285.16" y="315.71" width="5" height="22.12" fill="#ff800a"/><rect x="282.46" y="312.71" width="10.4" height="6" fill="#ff800a"/><rect x="282.46" y="334.83" width="10.4" height="6" fill="#ff800a"/><rect x="280.41" y="319.52" width="14.5" height="14.5" fill="#ff800a"/><rect x="304.58" y="325.19" width="5" height="18.96" fill="#ff800a"/><rect x="301.88" y="322.19" width="10.4" height="6" fill="#ff800a"/><rect x="301.88" y="341.15" width="10.4" height="6" fill="#ff800a"/><rect x="299.83" y="327.42" width="14.5" height="14.5" fill="#ff800a"/><rect x="323.99" y="324.4" width="5" height="17.38" fill="#ff800a"/><rect x="321.29" y="321.4" width="10.4" height="6" fill="#ff800a"/><rect x="321.29" y="338.78" width="10.4" height="6" fill="#ff800a"/><rect x="319.24" y="325.84" width="14.5" height="14.5" fill="#ff800a"/><rect x="343" y="327.56" width="5" height="20.54" fill="#ff800a"/><rect x="340.3" y="324.56" width="10.4" height="6" fill="#ff800a"/><rect x="340.3" y="345.1" width="10.4" height="6" fill="#ff800a"/><rect x="338.25" y="330.58" width="14.5" height="14.5" fill="#ff800a"/><rect x="362.82" y="330.72" width="5" height="33.18" fill="#ff800a"/><rect x="360.12" y="327.72" width="10.4" height="6" fill="#ff800a"/><rect x="360.12" y="360.9" width="10.4" height="6" fill="#ff800a"/><rect x="358.07" y="340.06" width="14.5" height="14.5" fill="#ff800a"/><rect x="382.24" y="320.06" width="5" height="33.97" fill="#ff800a"/><rect x="379.54" y="317.06" width="10.4" height="6" fill="#ff800a"/><rect x="379.54" y="351.02" width="10.4" height="6" fill="#ff800a"/><rect x="377.49" y="329.79" width="14.5" height="14.5" fill="#ff800a"/><rect x="410.96" y="336.64" width="5" height="38.71" fill="#ff800a"/><rect x="408.26" y="333.64" width="10.4" height="6" fill="#ff800a"/><rect x="408.26" y="372.36" width="10.4" height="6" fill="#ff800a"/><rect x="406.21" y="348.75" width="14.5" height="14.5" fill="#ff800a"/><rect x="83.6" y="284.8" width="341.4" height="189.7" fill="none" stroke="#222" stroke-width="1.3"/><line x1="78.6" y1="474.5" x2="83.6" y2="474.5" stroke="#222" stroke-width="1.3"/><text x="0" y="0" transform="translate(71.3,479) scale(1.13,1)" font-size="12.5" text-anchor="end" fill="#222" font-weight="normal" >0</text><line x1="78.6" y1="442.9" x2="83.6" y2="442.9" stroke="#222" stroke-width="1.3"/><text x="0" y="0" transform="translate(71.3,447.4) scale(1.13,1)" font-size="12.5" text-anchor="end" fill="#222" font-weight="normal" >4</text><line x1="78.6" y1="411.3" x2="83.6" y2="411.3" stroke="#222" stroke-width="1.3"/><text x="0" y="0" transform="translate(71.3,415.8) scale(1.13,1)" font-size="12.5" text-anchor="end" fill="#222" font-weight="normal" >8</text><line x1="78.6" y1="379.7" x2="83.6" y2="379.7" stroke="#222" stroke-width="1.3"/><text x="0" y="0" transform="translate(71.3,384.2) scale(1.13,1)" font-size="12.5" text-anchor="end" fill="#222" font-weight="normal" >12</text><line x1="78.6" y1="348.1" x2="83.6" y2="348.1" stroke="#222" stroke-width="1.3"/><text x="0" y="0" transform="translate(71.3,352.6) scale(1.13,1)" font-size="12.5" text-anchor="end" fill="#222" font-weight="normal" >16</text><line x1="78.6" y1="316.5" x2="83.6" y2="316.5" stroke="#222" stroke-width="1.3"/><text x="0" y="0" transform="translate(71.3,321) scale(1.13,1)" font-size="12.5" text-anchor="end" fill="#222" font-weight="normal" >20</text><line x1="78.6" y1="284.9" x2="83.6" y2="284.9" stroke="#222" stroke-width="1.3"/><text x="0" y="0" transform="translate(71.3,289.4) scale(1.13,1)" font-size="12.5" text-anchor="end" fill="#222" font-weight="normal" >24</text><line x1="93.5" y1="474.5" x2="93.5" y2="478.5" stroke="#222" stroke-width="1.3"/><text x="0" y="0" transform="translate(93.5,497.3) scale(1.15,1)" font-size="12.5" text-anchor="middle" fill="#222" font-weight="normal" >0</text><line x1="174.4" y1="474.5" x2="174.4" y2="478.5" stroke="#222" stroke-width="1.3"/><text x="0" y="0" transform="translate(174.4,497.3) scale(1.15,1)" font-size="12.5" text-anchor="middle" fill="#222" font-weight="normal" >200</text><line x1="255.3" y1="474.5" x2="255.3" y2="478.5" stroke="#222" stroke-width="1.3"/><text x="0" y="0" transform="translate(255.3,497.3) scale(1.15,1)" font-size="12.5" text-anchor="middle" fill="#222" font-weight="normal" >400</text><line x1="336.2" y1="474.5" x2="336.2" y2="478.5" stroke="#222" stroke-width="1.3"/><text x="0" y="0" transform="translate(336.2,497.3) scale(1.15,1)" font-size="12.5" text-anchor="middle" fill="#222" font-weight="normal" >600</text><line x1="417.1" y1="474.5" x2="417.1" y2="478.5" stroke="#222" stroke-width="1.3"/><text x="0" y="0" transform="translate(417.1,497.3) scale(1.15,1)" font-size="12.5" text-anchor="middle" fill="#222" font-weight="normal" >800</text><text x="0" y="0" transform="translate(253.9,519.7) scale(1.07,1)" font-size="14.5" text-anchor="middle" fill="#222" font-weight="normal" >Time (h)</text><text x="0" y="0" font-size="14" text-anchor="middle" fill="#222" font-weight="normal" transform="translate(42,379.6) rotate(-90)">PCE (%)</text><text x="106.6" y="390.5" font-size="14" text-anchor="start" fill="#222" font-weight="normal" letter-spacing="0.3">85 ± 5 °C 1 sun</text><rect x="99.6" y="404.6" width="3.8" height="6.4" fill="#b7a1d6"/><rect x="121.4" y="404.6" width="3.8" height="6.4" fill="#b7a1d6"/><rect x="106" y="402" width="11.5" height="11.5" fill="#b7a1d6"/><rect x="99.6" y="420.8" width="3.8" height="6.4" fill="#ff800a"/><rect x="121.4" y="420.8" width="3.8" height="6.4" fill="#ff800a"/><rect x="106" y="418.4" width="11.8" height="11.5" fill="#ff800a"/><text x="131" y="412.9" font-size="14" text-anchor="start" fill="#222" font-weight="normal" letter-spacing="0.4">With PEACl</text><text x="131" y="428.9" font-size="14" text-anchor="start" fill="#222" font-weight="normal" letter-spacing="0.4">Without PEACl</text>
<text x="451.5" y="26.1" font-size="21.5" text-anchor="start" fill="#000" font-weight="bold" stroke="#000" stroke-width="0.9">c</text><text x="641.2" y="31.7" font-size="15.3" text-anchor="middle" fill="#222" font-weight="normal" >With PEACl</text><g clip-path="url(#cc1)"><rect x="451" y="41" width="382" height="103" fill="#4b4b4b"/><rect x="451" y="41" width="200" height="30" fill="#575757" filter="url(#blur2)"/><circle cx="462" cy="53" r="13" fill="#6c6c6c" filter="url(#blur1)"/><polygon points="451,68.4 465.2,64.6 480.4,60.8 495.6,59.3 510.8,56.2 526,54 541.2,54.7 556.4,59.3 571.6,62.3 586.8,63.8 602,62.3 617.2,60.8 632,62 640,62 645,56.7 655.6,47.4 671.2,43.5 686.8,42.7 702.4,44.2 718,50.5 733.6,58.3 760,63 800,64 832,65 832,69.2 811.6,70 796,72.3 772.6,76.2 749.2,77.8 733.6,80.1 710.2,77.8 686.8,76.2 671.2,75.4 655.6,76.2 640,77 617.2,76 602,77.5 586.8,79.8 571.6,79 548.8,78.3 533.6,75.2 518.4,74.5 500,75.2 488,76.8 473.4,79.8 451,80.5" fill="#dadada" filter="url(#blur1)"/><clipPath id="bt1"><polygon points="451,68.4 465.2,64.6 480.4,60.8 495.6,59.3 510.8,56.2 526,54 541.2,54.7 556.4,59.3 571.6,62.3 586.8,63.8 602,62.3 617.2,60.8 632,62 640,62 645,56.7 655.6,47.4 671.2,43.5 686.8,42.7 702.4,44.2 718,50.5 733.6,58.3 760,63 800,64 832,65 832,69.2 811.6,70 796,72.3 772.6,76.2 749.2,77.8 733.6,80.1 710.2,77.8 686.8,76.2 671.2,75.4 655.6,76.2 640,77 617.2,76 602,77.5 586.8,79.8 571.6,79 548.8,78.3 533.6,75.2 518.4,74.5 500,75.2 488,76.8 473.4,79.8 451,80.5"/></clipPath><g clip-path="url(#bt1)"><rect x="451" y="42.7" width="381" height="37.8" filter="url(#gC)" opacity="0.2"/></g><polygon points="640,62 650,50 670,44 700,44 720,52 734,60 700,62 660,64" fill="#c8c8c8" filter="url(#blur1)"/><ellipse cx="655" cy="64.5" rx="20" ry="2.6" fill="#444" filter="url(#blur1)"/><polygon points="451,70 480,64 510,60 530,58 530,62 500,66 470,70 451,74" fill="#bdbdbd" filter="url(#blur1)"/><polygon points="451,80.5 473.4,79.8 488,76.8 500,75.2 518.4,74.5 533.6,75.2 548.8,78.3 571.6,79 586.8,79.8 602,77.5 617.2,76 640,77 655.6,76.2 671.2,75.4 686.8,76.2 710.2,77.8 733.6,80.1 749.2,77.8 772.6,76.2 796,72.3 811.6,70 832,69.2 832,119.5 451,119.5" fill="#7b6892" /><clipPath id="bt2"><polygon points="451,80.5 473.4,79.8 488,76.8 500,75.2 518.4,74.5 533.6,75.2 548.8,78.3 571.6,79 586.8,79.8 602,77.5 617.2,76 640,77 655.6,76.2 671.2,75.4 686.8,76.2 710.2,77.8 733.6,80.1 749.2,77.8 772.6,76.2 796,72.3 811.6,70 832,69.2 832,119.5 451,119.5"/></clipPath><g clip-path="url(#bt2)"><rect x="451" y="69.2" width="381" height="50.3" filter="url(#gV)" opacity="0.07"/></g><polygon points="485,78 515,75 520,119 482,119" fill="#8f7bad" opacity="0.7"/><polygon points="540,79 556,80 566,119 548,119" fill="#9a88b6" opacity="0.6"/><polygon points="580,80 590,80 590,119 581,119" fill="#8c78ab" opacity="0.6"/><polygon points="683,77 700,77 692,119 676,119" fill="#8a76a9" opacity="0.5"/><polygon points="770,77 790,74 803,119 778,119" fill="#8b77aa" opacity="0.5"/><polygon points="795,73 805,72 812,119 800,119" fill="#9480b0" opacity="0.5"/><rect x="451" y="118.5" width="382" height="3" fill="#d6d6d6"/><polygon points="451,121.5 832,121.5 832,144 451,144" fill="#c3c3c3" /><clipPath id="bt3"><polygon points="451,121.5 832,121.5 832,144 451,144"/></clipPath><g clip-path="url(#bt3)"><rect x="451" y="121.5" width="381" height="22.5" filter="url(#gV2)" opacity="0.14"/></g><rect x="451" y="121.5" width="381" height="6.5" filter="url(#gF)" opacity="0.22"/></g><rect x="452.7" y="132.2" width="103.7" height="4.6" fill="#ffffff"/><text x="595.9" y="104.1" font-size="15" text-anchor="start" fill="#f3ecfa" font-weight="normal" letter-spacing="0.1">Perovskite</text><rect x="736.5" y="39.3" width="95.1" height="25.5" fill="#555555"/><text x="750" y="59.1" font-size="15.5" text-anchor="start" fill="#ffffff" font-weight="normal" letter-spacing="0.3">0 hours</text><g clip-path="url(#cc2)"><rect x="451" y="149" width="382" height="105" fill="#f4f4f4"/><polygon points="451,177.7 465.2,176.9 480.4,182.2 491,182.2 513.8,183.8 532,179.2 551.8,176.2 582.2,173.1 602,176.9 617.2,183 632.4,182.2 640,181.7 655.6,185.6 686.8,180.1 716.4,177 749.2,175.4 796,176.2 832,176.2 832,225.5 451,225.5" fill="#7a7a7a" /><polygon points="451,170 535,170 535,226 451,226" fill="#8a8a8a" clip-path="url(#c2pv)"/><polygon points="535,170 617,170 617,226 535,226" fill="#6e6e6e" clip-path="url(#c2pv)"/><polygon points="617,170 634,170 634,226 619,226" fill="#9a9a9a" clip-path="url(#c2pv)"/><polygon points="634,170 718,170 718,226 634,226" fill="#737373" clip-path="url(#c2pv)"/><polygon points="718,170 726,170 733,226 722,226" fill="#a9a9a9" clip-path="url(#c2pv)"/><polygon points="733,170 832,170 832,226 733,226" fill="#808080" clip-path="url(#c2pv)"/><polygon points="480,180 500,180 500,226 480,226" fill="#7a7a7a" clip-path="url(#c2pv)"/><polygon points="508,180 526,180 528,226 511,226" fill="#9c9c9c" clip-path="url(#c2pv)"/><clipPath id="c2pv"><polygon points="451,177.7 465.2,176.9 480.4,182.2 491,182.2 513.8,183.8 532,179.2 551.8,176.2 582.2,173.1 602,176.9 617.2,183 632.4,182.2 640,181.7 655.6,185.6 686.8,180.1 716.4,177 749.2,175.4 796,176.2 832,176.2 832,225.5 451,225.5"/></clipPath><g clip-path="url(#c2pv)"><rect x="451" y="170" width="381" height="56" filter="url(#gV)" opacity="0.07"/></g><g clip-path="url(#c2pv)"><g filter="url(#blur05)"><line x1="457" y1="172" x2="458" y2="225" stroke="#bdbdbd" stroke-width="1.3" opacity="0.7"/><line x1="465" y1="172" x2="467" y2="225" stroke="#bdbdbd" stroke-width="1.3" opacity="0.7"/><line x1="521" y1="172" x2="523" y2="225" stroke="#bdbdbd" stroke-width="1.3" opacity="0.7"/><line x1="529" y1="172" x2="530" y2="225" stroke="#bdbdbd" stroke-width="1.3" opacity="0.7"/><line x1="560" y1="172" x2="560" y2="225" stroke="#bdbdbd" stroke-width="1.3" opacity="0.7"/><line x1="620" y1="172" x2="621" y2="225" stroke="#bdbdbd" stroke-width="1.3" opacity="0.7"/><line x1="760" y1="172" x2="760" y2="225" stroke="#bdbdbd" stroke-width="1.3" opacity="0.7"/><line x1="797" y1="172" x2="798" y2="225" stroke="#bdbdbd" stroke-width="1.3" opacity="0.7"/></g></g><ellipse cx="603" cy="173" rx="9" ry="4" fill="#d8d8d8" filter="url(#blur1)"/><rect x="451" y="225.3" width="382" height="4" fill="#f2f2f2"/><polygon points="451,229.2 832,229.2 832,254 451,254" fill="#b0b0b0" /><clipPath id="bt4"><polygon points="451,229.2 832,229.2 832,254 451,254"/></clipPath><g clip-path="url(#bt4)"><rect x="451" y="229.2" width="381" height="24.8" filter="url(#gV2)" opacity="0.18"/></g><rect x="451" y="229.2" width="381" height="10.8" filter="url(#gF)" opacity="0.22"/><ellipse cx="462" cy="234" rx="5" ry="3" fill="#7c7c7c" opacity="0.6" filter="url(#blur05)"/><ellipse cx="478" cy="236" rx="6" ry="3" fill="#7c7c7c" opacity="0.6" filter="url(#blur05)"/><ellipse cx="500" cy="233" rx="4" ry="3" fill="#7c7c7c" opacity="0.6" filter="url(#blur05)"/><ellipse cx="530" cy="237" rx="6" ry="3" fill="#7c7c7c" opacity="0.6" filter="url(#blur05)"/><ellipse cx="558" cy="234" rx="5" ry="3" fill="#7c7c7c" opacity="0.6" filter="url(#blur05)"/><ellipse cx="590" cy="236" rx="7" ry="3" fill="#7c7c7c" opacity="0.6" filter="url(#blur05)"/><ellipse cx="615" cy="233" rx="4" ry="3" fill="#7c7c7c" opacity="0.6" filter="url(#blur05)"/><ellipse cx="650" cy="236" rx="5" ry="3" fill="#7c7c7c" opacity="0.6" filter="url(#blur05)"/><ellipse cx="690" cy="234" rx="6" ry="3" fill="#7c7c7c" opacity="0.6" filter="url(#blur05)"/><ellipse cx="728" cy="236" rx="4" ry="3" fill="#7c7c7c" opacity="0.6" filter="url(#blur05)"/><ellipse cx="760" cy="234" rx="5" ry="3" fill="#7c7c7c" opacity="0.6" filter="url(#blur05)"/><ellipse cx="800" cy="236" rx="6" ry="3" fill="#7c7c7c" opacity="0.6" filter="url(#blur05)"/></g><rect x="736.5" y="149.4" width="94.3" height="25.2" fill="#555555"/><text x="747.3" y="166.8" font-size="15.5" text-anchor="start" fill="#ffffff" font-weight="normal" letter-spacing="0.3">80 hours</text><g clip-path="url(#cc3)"><rect x="451" y="266" width="382" height="122" fill="#e4e4e4"/><rect x="451" y="266" width="381" height="36" filter="url(#gC)" opacity="0.28"/><polygon points="451,264 832,264 832,272 780,276 700,270 640,277 560,272 500,278 451,274" fill="#a4a4a4" filter="url(#blur2)"/><polygon points="451,283 520,280 600,286 660,280 720,284 800,281 832,283 832,296 451,296" fill="#f2f2f2" opacity="0.7" filter="url(#blur2)"/><polygon points="451,299 470,300 490,298 510,300 530,301 560,300 575,298 590,300 610,302 640,299 660,297 700,300 715,306 722,308 730,304 740,300 770,296 800,295 832,294 832,340.8 640,345 451,348.5" fill="#656565" /><clipPath id="bt5"><polygon points="451,299 470,300 490,298 510,300 530,301 560,300 575,298 590,300 610,302 640,299 660,297 700,300 715,306 722,308 730,304 740,300 770,296 800,295 832,294 832,340.8 640,345 451,348.5"/></clipPath><g clip-path="url(#bt5)"><rect x="451" y="294" width="381" height="54.5" filter="url(#gV)" opacity="0.07"/></g><polygon points="576,299 588,300 596,322 604,340 606,352 590,352 585,336 580,318" fill="#8e8e8e"/><polyline points="576,299 580,318 585,336 590,352" fill="none" stroke="#c8c8c8" stroke-width="1.5"/><polyline points="588,300 596,322 604,340 606,352" fill="none" stroke="#c8c8c8" stroke-width="1.5"/><clipPath id="cl6"><polygon points="451,299 470,300 490,298 510,300 530,301 560,300 575,298 590,300 610,302 640,299 660,297 700,300 715,306 722,308 730,304 740,300 770,296 800,295 832,294 832,340.8 640,345 451,348.5"/></clipPath><g clip-path="url(#cl6)"><g filter="url(#blur05)"><line x1="460" y1="294" x2="462" y2="345" stroke="#8a8a8a" stroke-width="1.4" opacity="0.7"/><line x1="490" y1="294" x2="487" y2="345" stroke="#8a8a8a" stroke-width="1.4" opacity="0.7"/><line x1="538" y1="294" x2="541" y2="345" stroke="#8a8a8a" stroke-width="1.4" opacity="0.7"/><line x1="690" y1="294" x2="695" y2="345" stroke="#8a8a8a" stroke-width="1.4" opacity="0.7"/><line x1="768" y1="294" x2="762" y2="345" stroke="#8a8a8a" stroke-width="1.4" opacity="0.7"/><line x1="800" y1="294" x2="803" y2="345" stroke="#8a8a8a" stroke-width="1.4" opacity="0.7"/><line x1="820" y1="294" x2="816" y2="345" stroke="#8a8a8a" stroke-width="1.4" opacity="0.7"/></g></g><polygon points="451,348.5 640,345 832,340.8 832,344.9 640,349.4 451,353.3" fill="#dcdcdc" /><polygon points="451,353.3 640,349.4 832,344.9 832,349.8 640,354.4 451,359" fill="#0b0b0b" /><polygon points="451,359 640,354.4 832,349.8 832,388 451,388" fill="#757575" /><clipPath id="bt7"><polygon points="451,359 640,354.4 832,349.8 832,388 451,388"/></clipPath><g clip-path="url(#bt7)"><rect x="451" y="349.8" width="381" height="38.2" filter="url(#gV2)" opacity="0.12"/></g><g filter="url(#blur05)"><line x1="470" y1="360" x2="474" y2="388" stroke="#c0c0c0" stroke-width="1.2" opacity="0.75"/><line x1="500" y1="360" x2="498" y2="388" stroke="#c0c0c0" stroke-width="1.2" opacity="0.75"/><line x1="530" y1="360" x2="536" y2="388" stroke="#c0c0c0" stroke-width="1.2" opacity="0.75"/><line x1="560" y1="360" x2="562" y2="388" stroke="#c0c0c0" stroke-width="1.2" opacity="0.75"/><line x1="600" y1="360" x2="597" y2="388" stroke="#c0c0c0" stroke-width="1.2" opacity="0.75"/><line x1="660" y1="360" x2="664" y2="388" stroke="#c0c0c0" stroke-width="1.2" opacity="0.75"/><line x1="700" y1="360" x2="703" y2="388" stroke="#c0c0c0" stroke-width="1.2" opacity="0.75"/><line x1="741" y1="360" x2="739" y2="388" stroke="#c0c0c0" stroke-width="1.2" opacity="0.75"/><line x1="780" y1="360" x2="780" y2="388" stroke="#c0c0c0" stroke-width="1.2" opacity="0.75"/><line x1="810" y1="360" x2="815" y2="388" stroke="#c0c0c0" stroke-width="1.2" opacity="0.75"/></g><polyline points="460,362 470,372 480,380" fill="none" stroke="#b8b8b8" stroke-width="1.2" opacity="0.8"/><polyline points="520,360 530,370 545,373" fill="none" stroke="#b8b8b8" stroke-width="1.2" opacity="0.8"/><polyline points="610,358 620,368 630,372" fill="none" stroke="#b8b8b8" stroke-width="1.2" opacity="0.8"/><polyline points="690,356 700,366 712,370" fill="none" stroke="#b8b8b8" stroke-width="1.2" opacity="0.8"/><polyline points="760,354 768,364 782,367" fill="none" stroke="#b8b8b8" stroke-width="1.2" opacity="0.8"/></g><ellipse cx="653.7" cy="317.4" rx="10" ry="23.6" fill="none" stroke="#c1121c" stroke-width="2.6"/><ellipse cx="654" cy="315" rx="1.2" ry="3.5" fill="#111"/><rect x="736.5" y="265.1" width="94.5" height="25.8" fill="#555555"/><text x="749.2" y="285.1" font-size="15.5" text-anchor="start" fill="#ffffff" font-weight="normal" letter-spacing="0.3">160 hours</text><g clip-path="url(#cc4)"><rect x="451" y="393" width="382" height="106" fill="#c2c2c2"/><rect x="451" y="393" width="381" height="35" filter="url(#gC)" opacity="0.22"/><polygon points="658,393 833,393 833,402 760,404 700,406 670,404" fill="#5c5c5c" filter="url(#blur1)"/><rect x="451" y="392" width="210" height="5" fill="#7a7a7a" filter="url(#blur1)"/><polygon points="451,424 520,424 556,422 580,419 602,416 640,414.5 680,421 720,427.4 750,427.5 780,426.7 810,423 832,421.2 832,479.7 760,478.5 700,477 640,475 630,473 602,469.8 556,471.3 540,472 500,474 451,474.3" fill="#686868" /><clipPath id="bt8"><polygon points="451,424 520,424 556,422 580,419 602,416 640,414.5 680,421 720,427.4 750,427.5 780,426.7 810,423 832,421.2 832,479.7 760,478.5 700,477 640,475 630,473 602,469.8 556,471.3 540,472 500,474 451,474.3"/></clipPath><g clip-path="url(#bt8)"><rect x="451" y="414.5" width="381" height="65.2" filter="url(#gV)" opacity="0.07"/></g><clipPath id="cl9"><polygon points="451,424 520,424 556,422 580,419 602,416 640,414.5 680,421 720,427.4 750,427.5 780,426.7 810,423 832,421.2 832,479.7 760,478.5 700,477 640,475 630,473 602,469.8 556,471.3 540,472 500,474 451,474.3"/></clipPath><g clip-path="url(#cl9)"><g filter="url(#blur05)"><line x1="456" y1="414" x2="457" y2="474" stroke="#9c9c9c" stroke-width="1.3" opacity="0.6"/><line x1="468" y1="414" x2="472" y2="474" stroke="#9c9c9c" stroke-width="1.3" opacity="0.6"/><line x1="480" y1="414" x2="488" y2="474" stroke="#9c9c9c" stroke-width="1.3" opacity="0.6"/><line x1="590" y1="414" x2="593" y2="474" stroke="#9c9c9c" stroke-width="1.3" opacity="0.6"/><line x1="610" y1="414" x2="606" y2="474" stroke="#9c9c9c" stroke-width="1.3" opacity="0.6"/><line x1="680" y1="414" x2="690" y2="474" stroke="#9c9c9c" stroke-width="1.3" opacity="0.6"/><line x1="690" y1="414" x2="698" y2="474" stroke="#9c9c9c" stroke-width="1.3" opacity="0.6"/><line x1="700" y1="414" x2="705" y2="474" stroke="#9c9c9c" stroke-width="1.3" opacity="0.6"/><line x1="776" y1="414" x2="773" y2="474" stroke="#9c9c9c" stroke-width="1.3" opacity="0.6"/></g></g><polygon points="451,474.3 500,474 540,472 556,471.3 602,469.8 630,473 640,475 700,477 760,478.5 832,479.7 832,499 451,499" fill="#b3b3b3" /><clipPath id="bt10"><polygon points="451,474.3 500,474 540,472 556,471.3 602,469.8 630,473 640,475 700,477 760,478.5 832,479.7 832,499 451,499"/></clipPath><g clip-path="url(#bt10)"><rect x="451" y="469.8" width="381" height="29.2" filter="url(#gF)" opacity="0.18"/></g></g><ellipse cx="518.4" cy="447" rx="9.6" ry="23.7" fill="none" stroke="#c1121c" stroke-width="2.6"/><ellipse cx="517.2" cy="448" rx="1.5" ry="2.5" fill="#111"/><ellipse cx="518" cy="436" rx="0.8" ry="1.5" fill="#222"/><g transform="translate(741,458.7) rotate(-37)"><ellipse cx="0" cy="0" rx="11" ry="31" fill="none" stroke="#c1121c" stroke-width="2.6"/><ellipse cx="-1" cy="-4" rx="2" ry="4" fill="#222"/><ellipse cx="0" cy="-16" rx="2.5" ry="3" fill="#aaa"/></g><rect x="736.5" y="392.3" width="95.1" height="25.5" fill="#555555"/><text x="748.4" y="411" font-size="15.5" text-anchor="start" fill="#ffffff" font-weight="normal" letter-spacing="0.3">260 hours</text>
<text x="857" y="26.1" font-size="21.5" text-anchor="start" fill="#000" font-weight="bold" stroke="#000" stroke-width="0.9">d</text><text x="1046.7" y="31.7" font-size="15.3" text-anchor="middle" fill="#222" font-weight="normal" >Without PEACl</text><g clip-path="url(#cd1)"><rect x="856" y="41" width="382" height="103" fill="#3c3c3c"/><polygon points="856,55 867.4,56.5 880,62 890.6,68.1 903,66.5 913.8,65.8 926,61.2 935,62.5 944.6,66.6 960,69 975.5,71.2 990,73.5 998.7,75 1010,72.5 1021.8,70.4 1045,65.3 1061,65.3 1076,69.2 1092,75.4 1120,75.4 1139,69.2 1180,69.5 1237,70 1237,118.5 856,118.5" fill="#939393" /><clipPath id="bt11"><polygon points="856,55 867.4,56.5 880,62 890.6,68.1 903,66.5 913.8,65.8 926,61.2 935,62.5 944.6,66.6 960,69 975.5,71.2 990,73.5 998.7,75 1010,72.5 1021.8,70.4 1045,65.3 1061,65.3 1076,69.2 1092,75.4 1120,75.4 1139,69.2 1180,69.5 1237,70 1237,118.5 856,118.5"/></clipPath><g clip-path="url(#bt11)"><rect x="856" y="55" width="381" height="63.5" filter="url(#gV)" opacity="0.07"/></g><polyline points="856,55 867.4,56.5 880,62 890.6,68.1 903,66.5 913.8,65.8 926,61.2 935,62.5 944.6,66.6 960,69 975.5,71.2 990,73.5 998.7,75 1010,72.5 1021.8,70.4 1045,65.3 1061,65.3 1076,69.2 1092,75.4 1120,75.4 1139,69.2 1180,69.5 1237,70" fill="none" stroke="#cfcfcf" stroke-width="4" filter="url(#blur1)"/><polyline points="856,55 867.4,56.5 880,62 890.6,68.1 903,66.5 913.8,65.8 926,61.2 935,62.5 944.6,66.6 960,69 975.5,71.2 990,73.5 998.7,75 1010,72.5 1021.8,70.4 1045,65.3 1061,65.3 1076,69.2 1092,75.4 1120,75.4 1139,69.2 1180,69.5 1237,70" fill="none" stroke="#d6d6d6" stroke-width="2" /><clipPath id="cl12"><polygon points="856,55 867.4,56.5 880,62 890.6,68.1 903,66.5 913.8,65.8 926,61.2 935,62.5 944.6,66.6 960,69 975.5,71.2 990,73.5 998.7,75 1010,72.5 1021.8,70.4 1045,65.3 1061,65.3 1076,69.2 1092,75.4 1120,75.4 1139,69.2 1180,69.5 1237,70 1237,118.5 856,118.5"/></clipPath><g clip-path="url(#cl12)"><g filter="url(#blur05)"><line x1="915" y1="60" x2="917" y2="118" stroke="#b4b4b4" stroke-width="1.4" opacity="0.6"/><line x1="928" y1="60" x2="922" y2="118" stroke="#b4b4b4" stroke-width="1.4" opacity="0.6"/><line x1="978" y1="60" x2="975" y2="118" stroke="#b4b4b4" stroke-width="1.4" opacity="0.6"/><line x1="990" y1="60" x2="991" y2="118" stroke="#b4b4b4" stroke-width="1.4" opacity="0.6"/><line x1="1007" y1="60" x2="1010" y2="118" stroke="#b4b4b4" stroke-width="1.4" opacity="0.6"/><line x1="1060" y1="60" x2="1058" y2="118" stroke="#b4b4b4" stroke-width="1.4" opacity="0.6"/><line x1="1075" y1="60" x2="1078" y2="118" stroke="#b4b4b4" stroke-width="1.4" opacity="0.6"/><line x1="1117" y1="60" x2="1119" y2="118" stroke="#b4b4b4" stroke-width="1.4" opacity="0.6"/><line x1="1135" y1="60" x2="1141" y2="118" stroke="#b4b4b4" stroke-width="1.4" opacity="0.6"/><line x1="1195" y1="60" x2="1197" y2="118" stroke="#b4b4b4" stroke-width="1.4" opacity="0.6"/><line x1="1220" y1="60" x2="1224" y2="118" stroke="#b4b4b4" stroke-width="1.4" opacity="0.6"/></g></g><rect x="856" y="118" width="382" height="3" fill="#b9b9b9"/><polygon points="856,121 1237,121 1237,144 856,144" fill="#969696" /><clipPath id="bt13"><polygon points="856,121 1237,121 1237,144 856,144"/></clipPath><g clip-path="url(#bt13)"><rect x="856" y="121" width="381" height="23" filter="url(#gV2)" opacity="0.12"/></g><g filter="url(#blur05)"><line x1="978" y1="121" x2="977" y2="143" stroke="#c8c8c8" stroke-width="1.2" opacity="0.7"/><line x1="1030" y1="121" x2="1030" y2="143" stroke="#c8c8c8" stroke-width="1.2" opacity="0.7"/><line x1="1114" y1="121" x2="1114" y2="143" stroke="#c8c8c8" stroke-width="1.2" opacity="0.7"/><line x1="1180" y1="121" x2="1181" y2="143" stroke="#c8c8c8" stroke-width="1.2" opacity="0.7"/></g></g><rect x="1140.2" y="41.1" width="96.4" height="26.5" fill="#555555"/><text x="1155.8" y="59.1" font-size="15.5" text-anchor="start" fill="#ffffff" font-weight="normal" letter-spacing="0.3">0 hours</text><g clip-path="url(#cd2)"><rect x="856" y="149" width="382" height="104" fill="#d0d0d0"/><rect x="856" y="147" width="382" height="10" fill="#b8b8b8" filter="url(#blur2)"/><rect x="856" y="149" width="381" height="36" filter="url(#gC)" opacity="0.2"/><polygon points="856,170 900,168 940,163 1000,165 1060,170 1140,172 1237,170 1237,178 856,184" fill="#e4e4e4" opacity="0.8" filter="url(#blur2)"/><polygon points="856,182 872,182.8 898.3,182 909.1,179.7 929.2,174.3 947.7,168.2 967.8,170.5 978.6,174.3 1014.1,173.6 1029.5,169 1045,173.9 1060.6,177 1076.2,177 1099.6,173.1 1123,173.1 1138.6,176.2 1170,175.4 1237,175.4 1237,228.4 856,228.4" fill="#7c7c7c" /><clipPath id="bt14"><polygon points="856,182 872,182.8 898.3,182 909.1,179.7 929.2,174.3 947.7,168.2 967.8,170.5 978.6,174.3 1014.1,173.6 1029.5,169 1045,173.9 1060.6,177 1076.2,177 1099.6,173.1 1123,173.1 1138.6,176.2 1170,175.4 1237,175.4 1237,228.4 856,228.4"/></clipPath><g clip-path="url(#bt14)"><rect x="856" y="168.2" width="381" height="60.2" filter="url(#gV)" opacity="0.08"/></g><polyline points="856,182 872,182.8 898.3,182 909.1,179.7 929.2,174.3 947.7,168.2 967.8,170.5 978.6,174.3 1014.1,173.6 1029.5,169 1045,173.9 1060.6,177 1076.2,177 1099.6,173.1 1123,173.1 1138.6,176.2 1170,175.4 1237,175.4" fill="none" stroke="#5a5a5a" stroke-width="1.5" /><polygon points="868,183 875,183 873,228 868,228" fill="#959595"/><polygon points="900,182 908,180 910,228 902,228" fill="#a0a0a0"/><polygon points="1135,177 1140,177 1145,228 1138,228" fill="#969696"/><polygon points="1225,176 1232,176 1234,228 1226,228" fill="#a0a0a0"/><clipPath id="cl15"><polygon points="856,182 872,182.8 898.3,182 909.1,179.7 929.2,174.3 947.7,168.2 967.8,170.5 978.6,174.3 1014.1,173.6 1029.5,169 1045,173.9 1060.6,177 1076.2,177 1099.6,173.1 1123,173.1 1138.6,176.2 1170,175.4 1237,175.4 1237,228.4 856,228.4"/></clipPath><g clip-path="url(#cl15)"><g filter="url(#blur05)"><line x1="945" y1="165" x2="951" y2="228" stroke="#a8a8a8" stroke-width="1.4" opacity="0.6"/><line x1="960" y1="165" x2="964" y2="228" stroke="#a8a8a8" stroke-width="1.4" opacity="0.6"/><line x1="982" y1="165" x2="983" y2="228" stroke="#a8a8a8" stroke-width="1.4" opacity="0.6"/><line x1="1000" y1="165" x2="1005" y2="228" stroke="#a8a8a8" stroke-width="1.4" opacity="0.6"/><line x1="1020" y1="165" x2="1028" y2="228" stroke="#a8a8a8" stroke-width="1.4" opacity="0.6"/><line x1="1030" y1="165" x2="1040" y2="228" stroke="#a8a8a8" stroke-width="1.4" opacity="0.6"/><line x1="1060" y1="165" x2="1062" y2="228" stroke="#a8a8a8" stroke-width="1.4" opacity="0.6"/><line x1="1085" y1="165" x2="1089" y2="228" stroke="#a8a8a8" stroke-width="1.4" opacity="0.6"/><line x1="1100" y1="165" x2="1101" y2="228" stroke="#a8a8a8" stroke-width="1.4" opacity="0.6"/></g></g><rect x="856" y="227.2" width="382" height="3" fill="#b8b8b8"/><polygon points="856,230.2 1237,230.2 1237,253 856,253" fill="#8e8e8e" /><clipPath id="bt16"><polygon points="856,230.2 1237,230.2 1237,253 856,253"/></clipPath><g clip-path="url(#bt16)"><rect x="856" y="230.2" width="381" height="22.8" filter="url(#gV2)" opacity="0.12"/></g></g><rect x="1140.2" y="149.4" width="94.8" height="25.2" fill="#555555"/><text x="1152.3" y="166.8" font-size="15.5" text-anchor="start" fill="#ffffff" font-weight="normal" letter-spacing="0.3">160 hours</text><g clip-path="url(#cd3)"><rect x="856" y="259" width="382" height="128" fill="#4a4a4a"/><polygon points="856,289.3 917,289.3 934,286.8 960,280 983,276.2 1000,278 1015,279.5 1030,278 1045,278 1060,281 1080,284 1100,285 1140,283 1195,284 1237,284 1237,302.4 1215,293 1195,287.7 1170,286.5 1140,286 1120,289 1100,292.6 1070,288 1045,284.5 1010,287 983,289 955,292 930,294 856,294" fill="#a8a8a8" filter="url(#blur1)"/><polygon points="1095,287 1112,284 1140,284 1140,294 1110,294" fill="#d2d2d2" filter="url(#blur1)"/><polygon points="1195,288 1237,286 1237,302 1215,295" fill="#c4c4c4" filter="url(#blur1)"/><polygon points="856,294 930,294 955,292 983,289 1010,287 1045,284.5 1070,288 1100,292.6 1120,289 1140,286 1170,286.5 1195,287.7 1215,293 1237,302.4 1237,358.5 856,358.5" fill="#636363" /><clipPath id="bt17"><polygon points="856,294 930,294 955,292 983,289 1010,287 1045,284.5 1070,288 1100,292.6 1120,289 1140,286 1170,286.5 1195,287.7 1215,293 1237,302.4 1237,358.5 856,358.5"/></clipPath><g clip-path="url(#bt17)"><rect x="856" y="284.5" width="381" height="74" filter="url(#gV)" opacity="0.06"/></g><clipPath id="cl18"><polygon points="856,294 930,294 955,292 983,289 1010,287 1045,284.5 1070,288 1100,292.6 1120,289 1140,286 1170,286.5 1195,287.7 1215,293 1237,302.4 1237,358.5 856,358.5"/></clipPath><g clip-path="url(#cl18)"><g filter="url(#blur05)"><line x1="872" y1="284" x2="870" y2="355" stroke="#8a8a8a" stroke-width="1.6" opacity="0.6"/><line x1="930" y1="284" x2="924" y2="355" stroke="#8a8a8a" stroke-width="1.6" opacity="0.6"/><line x1="965" y1="284" x2="960" y2="355" stroke="#8a8a8a" stroke-width="1.6" opacity="0.6"/><line x1="1010" y1="284" x2="1012" y2="355" stroke="#8a8a8a" stroke-width="1.6" opacity="0.6"/><line x1="1023" y1="284" x2="1026" y2="355" stroke="#8a8a8a" stroke-width="1.6" opacity="0.6"/><line x1="1070" y1="284" x2="1067" y2="355" stroke="#8a8a8a" stroke-width="1.6" opacity="0.6"/><line x1="1090" y1="284" x2="1096" y2="355" stroke="#8a8a8a" stroke-width="1.6" opacity="0.6"/><line x1="1112" y1="284" x2="1109" y2="355" stroke="#8a8a8a" stroke-width="1.6" opacity="0.6"/><line x1="1135" y1="284" x2="1138" y2="355" stroke="#8a8a8a" stroke-width="1.6" opacity="0.6"/></g></g><polygon points="856,345 880,342 905,344 912,350 910,359 856,359" fill="#7e7e7e"/><polygon points="945,350 960,340 973,339 975,350 965,360 947,362" fill="#858585"/><polygon points="1118,345 1140,333 1175,334 1215,336 1236,350 1236,360 1118,360" fill="#737373"/><polygon points="1148,358 1160,350 1185,350 1195,358 1185,365 1150,365" fill="#7d7d7d"/><rect x="856" y="358" width="382" height="10" fill="#7c7c7c"/><rect x="856" y="359.2" width="382" height="2.6" fill="#b0b0b0"/><polygon points="856,367.5 1237,367.5 1237,387 856,387" fill="#8b8b8b" /><clipPath id="bt19"><polygon points="856,367.5 1237,367.5 1237,387 856,387"/></clipPath><g clip-path="url(#bt19)"><rect x="856" y="367.5" width="381" height="19.5" filter="url(#gV2)" opacity="0.12"/></g></g><rect x="1140" y="259.9" width="96.4" height="25.8" fill="#4d4d4d"/><text x="1152" y="277" font-size="15.5" text-anchor="start" fill="#ffffff" font-weight="normal" letter-spacing="0.3">480 hours</text><g clip-path="url(#cd4)"><rect x="856" y="393" width="382" height="105" fill="#5a5a5a"/><polygon points="856,411.7 870,411 881.6,410.7 898,412.5 913.2,414.9 925,417.3 932.1,418 945,414.5 960.6,412.6 982.7,413.3 998.5,415.8 1015,412.5 1036.4,410.7 1055,412.5 1071.2,414.9 1080.6,415.8 1100,415.5 1118.6,414.9 1134.4,413.3 1160,414.5 1200,417 1237,419.8 1237,464 856,464" fill="#8f8f8f" /><clipPath id="bt20"><polygon points="856,411.7 870,411 881.6,410.7 898,412.5 913.2,414.9 925,417.3 932.1,418 945,414.5 960.6,412.6 982.7,413.3 998.5,415.8 1015,412.5 1036.4,410.7 1055,412.5 1071.2,414.9 1080.6,415.8 1100,415.5 1118.6,414.9 1134.4,413.3 1160,414.5 1200,417 1237,419.8 1237,464 856,464"/></clipPath><g clip-path="url(#bt20)"><rect x="856" y="410.7" width="381" height="53.3" filter="url(#gV)" opacity="0.07"/></g><polyline points="856,411.7 870,411 881.6,410.7 898,412.5 913.2,414.9 925,417.3 932.1,418 945,414.5 960.6,412.6 982.7,413.3 998.5,415.8 1015,412.5 1036.4,410.7 1055,412.5 1071.2,414.9 1080.6,415.8 1100,415.5 1118.6,414.9 1134.4,413.3 1160,414.5 1200,417 1237,419.8" fill="none" stroke="#d8d8d8" stroke-width="4" filter="url(#blur1)"/><polyline points="856,411.7 870,411 881.6,410.7 898,412.5 913.2,414.9 925,417.3 932.1,418 945,414.5 960.6,412.6 982.7,413.3 998.5,415.8 1015,412.5 1036.4,410.7 1055,412.5 1071.2,414.9 1080.6,415.8 1100,415.5 1118.6,414.9 1134.4,413.3 1160,414.5 1200,417 1237,419.8" fill="none" stroke="#e2e2e2" stroke-width="2" /><clipPath id="cl21"><polygon points="856,411.7 870,411 881.6,410.7 898,412.5 913.2,414.9 925,417.3 932.1,418 945,414.5 960.6,412.6 982.7,413.3 998.5,415.8 1015,412.5 1036.4,410.7 1055,412.5 1071.2,414.9 1080.6,415.8 1100,415.5 1118.6,414.9 1134.4,413.3 1160,414.5 1200,417 1237,419.8 1237,464 856,464"/></clipPath><g clip-path="url(#cl21)"><g filter="url(#blur05)"><line x1="880" y1="410" x2="883" y2="463" stroke="#acacac" stroke-width="1.4" opacity="0.6"/><line x1="892" y1="410" x2="888" y2="463" stroke="#acacac" stroke-width="1.4" opacity="0.6"/><line x1="927" y1="410" x2="930" y2="463" stroke="#acacac" stroke-width="1.4" opacity="0.6"/><line x1="940" y1="410" x2="942" y2="463" stroke="#acacac" stroke-width="1.4" opacity="0.6"/><line x1="965" y1="410" x2="969" y2="463" stroke="#acacac" stroke-width="1.4" opacity="0.6"/><line x1="980" y1="410" x2="988" y2="463" stroke="#acacac" stroke-width="1.4" opacity="0.6"/><line x1="1000" y1="410" x2="1006" y2="463" stroke="#acacac" stroke-width="1.4" opacity="0.6"/><line x1="1095" y1="410" x2="1087" y2="463" stroke="#acacac" stroke-width="1.4" opacity="0.6"/><line x1="1102" y1="410" x2="1099" y2="463" stroke="#acacac" stroke-width="1.4" opacity="0.6"/><line x1="1180" y1="410" x2="1182" y2="463" stroke="#acacac" stroke-width="1.4" opacity="0.6"/><line x1="1190" y1="410" x2="1194" y2="463" stroke="#acacac" stroke-width="1.4" opacity="0.6"/></g></g><rect x="856" y="463.5" width="382" height="2.2" fill="#b6b6b6"/><polygon points="856,465.5 1237,465.5 1237,472.5 856,472.5" fill="#979797" /><clipPath id="bt22"><polygon points="856,465.5 1237,465.5 1237,472.5 856,472.5"/></clipPath><g clip-path="url(#bt22)"><rect x="856" y="465.5" width="381" height="7" filter="url(#gV2)" opacity="0.2"/></g><rect x="856" y="472.3" width="382" height="26" fill="#898989"/></g><rect x="1139.9" y="392.4" width="96.7" height="25.2" fill="#555555"/><text x="1151.9" y="411.1" font-size="15.5" text-anchor="start" fill="#ffffff" font-weight="normal" letter-spacing="0.3">860 hours</text>
<text x="29.5" y="554" font-size="21.5" text-anchor="start" fill="#000" font-weight="bold" stroke="#000" stroke-width="0.9">e</text><g clip-path="url(#hc0)"><g filter="url(#hm0)"><rect x="19.89" y="539" width="24.81" height="25" fill="rgb(219,219,219)"/><rect x="44.2" y="539" width="24.81" height="25" fill="rgb(219,219,219)"/><rect x="68.51" y="539" width="24.81" height="25" fill="rgb(189,189,189)"/><rect x="92.83" y="539" width="24.81" height="25" fill="rgb(148,148,148)"/><rect x="117.14" y="539" width="24.81" height="25" fill="rgb(143,143,143)"/><rect x="141.45" y="539" width="24.81" height="25" fill="rgb(148,148,148)"/><rect x="165.76" y="539" width="24.81" height="25" fill="rgb(148,148,148)"/><rect x="190.07" y="539" width="24.81" height="25" fill="rgb(204,204,204)"/><rect x="214.39" y="539" width="24.81" height="25" fill="rgb(219,219,219)"/><rect x="238.7" y="539" width="24.81" height="25" fill="rgb(219,219,219)"/><rect x="19.89" y="563.5" width="24.81" height="25" fill="rgb(219,219,219)"/><rect x="44.2" y="563.5" width="24.81" height="25" fill="rgb(219,219,219)"/><rect x="68.51" y="563.5" width="24.81" height="25" fill="rgb(189,189,189)"/><rect x="92.83" y="563.5" width="24.81" height="25" fill="rgb(148,148,148)"/><rect x="117.14" y="563.5" width="24.81" height="25" fill="rgb(143,143,143)"/><rect x="141.45" y="563.5" width="24.81" height="25" fill="rgb(148,148,148)"/><rect x="165.76" y="563.5" width="24.81" height="25" fill="rgb(148,148,148)"/><rect x="190.07" y="563.5" width="24.81" height="25" fill="rgb(204,204,204)"/><rect x="214.39" y="563.5" width="24.81" height="25" fill="rgb(219,219,219)"/><rect x="238.7" y="563.5" width="24.81" height="25" fill="rgb(219,219,219)"/><rect x="19.89" y="588" width="24.81" height="25" fill="rgb(204,204,204)"/><rect x="44.2" y="588" width="24.81" height="25" fill="rgb(204,204,204)"/><rect x="68.51" y="588" width="24.81" height="25" fill="rgb(168,168,168)"/><rect x="92.83" y="588" width="24.81" height="25" fill="rgb(178,178,178)"/><rect x="117.14" y="588" width="24.81" height="25" fill="rgb(138,138,138)"/><rect x="141.45" y="588" width="24.81" height="25" fill="rgb(122,122,122)"/><rect x="165.76" y="588" width="24.81" height="25" fill="rgb(133,133,133)"/><rect x="190.07" y="588" width="24.81" height="25" fill="rgb(173,173,173)"/><rect x="214.39" y="588" width="24.81" height="25" fill="rgb(214,214,214)"/><rect x="238.7" y="588" width="24.81" height="25" fill="rgb(214,214,214)"/><rect x="19.89" y="612.5" width="24.81" height="25" fill="rgb(178,178,178)"/><rect x="44.2" y="612.5" width="24.81" height="25" fill="rgb(178,178,178)"/><rect x="68.51" y="612.5" width="24.81" height="25" fill="rgb(140,140,140)"/><rect x="92.83" y="612.5" width="24.81" height="25" fill="rgb(112,112,112)"/><rect x="117.14" y="612.5" width="24.81" height="25" fill="rgb(128,128,128)"/><rect x="141.45" y="612.5" width="24.81" height="25" fill="rgb(115,115,115)"/><rect x="165.76" y="612.5" width="24.81" height="25" fill="rgb(107,107,107)"/><rect x="190.07" y="612.5" width="24.81" height="25" fill="rgb(117,117,117)"/><rect x="214.39" y="612.5" width="24.81" height="25" fill="rgb(148,148,148)"/><rect x="238.7" y="612.5" width="24.81" height="25" fill="rgb(148,148,148)"/><rect x="19.89" y="637" width="24.81" height="25" fill="rgb(168,168,168)"/><rect x="44.2" y="637" width="24.81" height="25" fill="rgb(168,168,168)"/><rect x="68.51" y="637" width="24.81" height="25" fill="rgb(158,158,158)"/><rect x="92.83" y="637" width="24.81" height="25" fill="rgb(92,92,92)"/><rect x="117.14" y="637" width="24.81" height="25" fill="rgb(76,76,76)"/><rect x="141.45" y="637" width="24.81" height="25" fill="rgb(107,107,107)"/><rect x="165.76" y="637" width="24.81" height="25" fill="rgb(97,97,97)"/><rect x="190.07" y="637" width="24.81" height="25" fill="rgb(102,102,102)"/><rect x="214.39" y="637" width="24.81" height="25" fill="rgb(163,163,163)"/><rect x="238.7" y="637" width="24.81" height="25" fill="rgb(163,163,163)"/><rect x="19.89" y="661.5" width="24.81" height="25" fill="rgb(122,122,122)"/><rect x="44.2" y="661.5" width="24.81" height="25" fill="rgb(122,122,122)"/><rect x="68.51" y="661.5" width="24.81" height="25" fill="rgb(102,102,102)"/><rect x="92.83" y="661.5" width="24.81" height="25" fill="rgb(102,102,102)"/><rect x="117.14" y="661.5" width="24.81" height="25" fill="rgb(97,97,97)"/><rect x="141.45" y="661.5" width="24.81" height="25" fill="rgb(89,89,89)"/><rect x="165.76" y="661.5" width="24.81" height="25" fill="rgb(102,102,102)"/><rect x="190.07" y="661.5" width="24.81" height="25" fill="rgb(97,97,97)"/><rect x="214.39" y="661.5" width="24.81" height="25" fill="rgb(143,143,143)"/><rect x="238.7" y="661.5" width="24.81" height="25" fill="rgb(143,143,143)"/><rect x="19.89" y="686" width="24.81" height="25" fill="rgb(115,115,115)"/><rect x="44.2" y="686" width="24.81" height="25" fill="rgb(115,115,115)"/><rect x="68.51" y="686" width="24.81" height="25" fill="rgb(107,107,107)"/><rect x="92.83" y="686" width="24.81" height="25" fill="rgb(97,97,97)"/><rect x="117.14" y="686" width="24.81" height="25" fill="rgb(107,107,107)"/><rect x="141.45" y="686" width="24.81" height="25" fill="rgb(97,97,97)"/><rect x="165.76" y="686" width="24.81" height="25" fill="rgb(107,107,107)"/><rect x="190.07" y="686" width="24.81" height="25" fill="rgb(128,128,128)"/><rect x="214.39" y="686" width="24.81" height="25" fill="rgb(153,153,153)"/><rect x="238.7" y="686" width="24.81" height="25" fill="rgb(153,153,153)"/><rect x="19.89" y="710.5" width="24.81" height="25" fill="rgb(140,140,140)"/><rect x="44.2" y="710.5" width="24.81" height="25" fill="rgb(140,140,140)"/><rect x="68.51" y="710.5" width="24.81" height="25" fill="rgb(158,158,158)"/><rect x="92.83" y="710.5" width="24.81" height="25" fill="rgb(102,102,102)"/><rect x="117.14" y="710.5" width="24.81" height="25" fill="rgb(89,89,89)"/><rect x="141.45" y="710.5" width="24.81" height="25" fill="rgb(97,97,97)"/><rect x="165.76" y="710.5" width="24.81" height="25" fill="rgb(107,107,107)"/><rect x="190.07" y="710.5" width="24.81" height="25" fill="rgb(138,138,138)"/><rect x="214.39" y="710.5" width="24.81" height="25" fill="rgb(128,128,128)"/><rect x="238.7" y="710.5" width="24.81" height="25" fill="rgb(128,128,128)"/><rect x="19.89" y="735" width="24.81" height="25" fill="rgb(133,133,133)"/><rect x="44.2" y="735" width="24.81" height="25" fill="rgb(133,133,133)"/><rect x="68.51" y="735" width="24.81" height="25" fill="rgb(115,115,115)"/><rect x="92.83" y="735" width="24.81" height="25" fill="rgb(102,102,102)"/><rect x="117.14" y="735" width="24.81" height="25" fill="rgb(84,84,84)"/><rect x="141.45" y="735" width="24.81" height="25" fill="rgb(76,76,76)"/><rect x="165.76" y="735" width="24.81" height="25" fill="rgb(128,128,128)"/><rect x="190.07" y="735" width="24.81" height="25" fill="rgb(133,133,133)"/><rect x="214.39" y="735" width="24.81" height="25" fill="rgb(107,107,107)"/><rect x="238.7" y="735" width="24.81" height="25" fill="rgb(107,107,107)"/><rect x="19.89" y="759.5" width="24.81" height="25" fill="rgb(163,163,163)"/><rect x="44.2" y="759.5" width="24.81" height="25" fill="rgb(163,163,163)"/><rect x="68.51" y="759.5" width="24.81" height="25" fill="rgb(143,143,143)"/><rect x="92.83" y="759.5" width="24.81" height="25" fill="rgb(115,115,115)"/><rect x="117.14" y="759.5" width="24.81" height="25" fill="rgb(71,71,71)"/><rect x="141.45" y="759.5" width="24.81" height="25" fill="rgb(82,82,82)"/><rect x="165.76" y="759.5" width="24.81" height="25" fill="rgb(140,140,140)"/><rect x="190.07" y="759.5" width="24.81" height="25" fill="rgb(115,115,115)"/><rect x="214.39" y="759.5" width="24.81" height="25" fill="rgb(115,115,115)"/><rect x="238.7" y="759.5" width="24.81" height="25" fill="rgb(115,115,115)"/><rect x="19.89" y="784" width="24.81" height="25" fill="rgb(163,163,163)"/><rect x="44.2" y="784" width="24.81" height="25" fill="rgb(163,163,163)"/><rect x="68.51" y="784" width="24.81" height="25" fill="rgb(143,143,143)"/><rect x="92.83" y="784" width="24.81" height="25" fill="rgb(115,115,115)"/><rect x="117.14" y="784" width="24.81" height="25" fill="rgb(71,71,71)"/><rect x="141.45" y="784" width="24.81" height="25" fill="rgb(82,82,82)"/><rect x="165.76" y="784" width="24.81" height="25" fill="rgb(140,140,140)"/><rect x="190.07" y="784" width="24.81" height="25" fill="rgb(115,115,115)"/><rect x="214.39" y="784" width="24.81" height="25" fill="rgb(115,115,115)"/><rect x="238.7" y="784" width="24.81" height="25" fill="rgb(115,115,115)"/></g></g><rect x="44.2" y="563.5" width="194.5" height="220.5" fill="none" stroke="#333" stroke-width="1"/><rect x="197.2" y="760" width="36" height="5" fill="#000"/><g clip-path="url(#hc1)"><g filter="url(#hm1)"><rect x="223.99" y="539" width="24.81" height="25" fill="rgb(41,41,41)"/><rect x="248.3" y="539" width="24.81" height="25" fill="rgb(41,41,41)"/><rect x="272.61" y="539" width="24.81" height="25" fill="rgb(51,51,51)"/><rect x="296.93" y="539" width="24.81" height="25" fill="rgb(36,36,36)"/><rect x="321.24" y="539" width="24.81" height="25" fill="rgb(31,31,31)"/><rect x="345.55" y="539" width="24.81" height="25" fill="rgb(38,38,38)"/><rect x="369.86" y="539" width="24.81" height="25" fill="rgb(31,31,31)"/><rect x="394.18" y="539" width="24.81" height="25" fill="rgb(38,38,38)"/><rect x="418.49" y="539" width="24.81" height="25" fill="rgb(46,46,46)"/><rect x="442.8" y="539" width="24.81" height="25" fill="rgb(46,46,46)"/><rect x="223.99" y="563.5" width="24.81" height="25" fill="rgb(41,41,41)"/><rect x="248.3" y="563.5" width="24.81" height="25" fill="rgb(41,41,41)"/><rect x="272.61" y="563.5" width="24.81" height="25" fill="rgb(51,51,51)"/><rect x="296.93" y="563.5" width="24.81" height="25" fill="rgb(36,36,36)"/><rect x="321.24" y="563.5" width="24.81" height="25" fill="rgb(31,31,31)"/><rect x="345.55" y="563.5" width="24.81" height="25" fill="rgb(38,38,38)"/><rect x="369.86" y="563.5" width="24.81" height="25" fill="rgb(31,31,31)"/><rect x="394.18" y="563.5" width="24.81" height="25" fill="rgb(38,38,38)"/><rect x="418.49" y="563.5" width="24.81" height="25" fill="rgb(46,46,46)"/><rect x="442.8" y="563.5" width="24.81" height="25" fill="rgb(46,46,46)"/><rect x="223.99" y="588" width="24.81" height="25" fill="rgb(46,46,46)"/><rect x="248.3" y="588" width="24.81" height="25" fill="rgb(46,46,46)"/><rect x="272.61" y="588" width="24.81" height="25" fill="rgb(51,51,51)"/><rect x="296.93" y="588" width="24.81" height="25" fill="rgb(38,38,38)"/><rect x="321.24" y="588" width="24.81" height="25" fill="rgb(33,33,33)"/><rect x="345.55" y="588" width="24.81" height="25" fill="rgb(31,31,31)"/><rect x="369.86" y="588" width="24.81" height="25" fill="rgb(26,26,26)"/><rect x="394.18" y="588" width="24.81" height="25" fill="rgb(26,26,26)"/><rect x="418.49" y="588" width="24.81" height="25" fill="rgb(36,36,36)"/><rect x="442.8" y="588" width="24.81" height="25" fill="rgb(36,36,36)"/><rect x="223.99" y="612.5" width="24.81" height="25" fill="rgb(51,51,51)"/><rect x="248.3" y="612.5" width="24.81" height="25" fill="rgb(51,51,51)"/><rect x="272.61" y="612.5" width="24.81" height="25" fill="rgb(43,43,43)"/><rect x="296.93" y="612.5" width="24.81" height="25" fill="rgb(38,38,38)"/><rect x="321.24" y="612.5" width="24.81" height="25" fill="rgb(31,31,31)"/><rect x="345.55" y="612.5" width="24.81" height="25" fill="rgb(38,38,38)"/><rect x="369.86" y="612.5" width="24.81" height="25" fill="rgb(43,43,43)"/><rect x="394.18" y="612.5" width="24.81" height="25" fill="rgb(36,36,36)"/><rect x="418.49" y="612.5" width="24.81" height="25" fill="rgb(31,31,31)"/><rect x="442.8" y="612.5" width="24.81" height="25" fill="rgb(31,31,31)"/><rect x="223.99" y="637" width="24.81" height="25" fill="rgb(38,38,38)"/><rect x="248.3" y="637" width="24.81" height="25" fill="rgb(38,38,38)"/><rect x="272.61" y="637" width="24.81" height="25" fill="rgb(33,33,33)"/><rect x="296.93" y="637" width="24.81" height="25" fill="rgb(46,46,46)"/><rect x="321.24" y="637" width="24.81" height="25" fill="rgb(38,38,38)"/><rect x="345.55" y="637" width="24.81" height="25" fill="rgb(36,36,36)"/><rect x="369.86" y="637" width="24.81" height="25" fill="rgb(41,41,41)"/><rect x="394.18" y="637" width="24.81" height="25" fill="rgb(46,46,46)"/><rect x="418.49" y="637" width="24.81" height="25" fill="rgb(41,41,41)"/><rect x="442.8" y="637" width="24.81" height="25" fill="rgb(41,41,41)"/><rect x="223.99" y="661.5" width="24.81" height="25" fill="rgb(46,46,46)"/><rect x="248.3" y="661.5" width="24.81" height="25" fill="rgb(46,46,46)"/><rect x="272.61" y="661.5" width="24.81" height="25" fill="rgb(46,46,46)"/><rect x="296.93" y="661.5" width="24.81" height="25" fill="rgb(38,38,38)"/><rect x="321.24" y="661.5" width="24.81" height="25" fill="rgb(31,31,31)"/><rect x="345.55" y="661.5" width="24.81" height="25" fill="rgb(38,38,38)"/><rect x="369.86" y="661.5" width="24.81" height="25" fill="rgb(36,36,36)"/><rect x="394.18" y="661.5" width="24.81" height="25" fill="rgb(31,31,31)"/><rect x="418.49" y="661.5" width="24.81" height="25" fill="rgb(38,38,38)"/><rect x="442.8" y="661.5" width="24.81" height="25" fill="rgb(38,38,38)"/><rect x="223.99" y="686" width="24.81" height="25" fill="rgb(38,38,38)"/><rect x="248.3" y="686" width="24.81" height="25" fill="rgb(38,38,38)"/><rect x="272.61" y="686" width="24.81" height="25" fill="rgb(41,41,41)"/><rect x="296.93" y="686" width="24.81" height="25" fill="rgb(31,31,31)"/><rect x="321.24" y="686" width="24.81" height="25" fill="rgb(38,38,38)"/><rect x="345.55" y="686" width="24.81" height="25" fill="rgb(43,43,43)"/><rect x="369.86" y="686" width="24.81" height="25" fill="rgb(38,38,38)"/><rect x="394.18" y="686" width="24.81" height="25" fill="rgb(38,38,38)"/><rect x="418.49" y="686" width="24.81" height="25" fill="rgb(46,46,46)"/><rect x="442.8" y="686" width="24.81" height="25" fill="rgb(46,46,46)"/><rect x="223.99" y="710.5" width="24.81" height="25" fill="rgb(36,36,36)"/><rect x="248.3" y="710.5" width="24.81" height="25" fill="rgb(36,36,36)"/><rect x="272.61" y="710.5" width="24.81" height="25" fill="rgb(33,33,33)"/><rect x="296.93" y="710.5" width="24.81" height="25" fill="rgb(26,26,26)"/><rect x="321.24" y="710.5" width="24.81" height="25" fill="rgb(31,31,31)"/><rect x="345.55" y="710.5" width="24.81" height="25" fill="rgb(36,36,36)"/><rect x="369.86" y="710.5" width="24.81" height="25" fill="rgb(38,38,38)"/><rect x="394.18" y="710.5" width="24.81" height="25" fill="rgb(43,43,43)"/><rect x="418.49" y="710.5" width="24.81" height="25" fill="rgb(51,51,51)"/><rect x="442.8" y="710.5" width="24.81" height="25" fill="rgb(51,51,51)"/><rect x="223.99" y="735" width="24.81" height="25" fill="rgb(38,38,38)"/><rect x="248.3" y="735" width="24.81" height="25" fill="rgb(38,38,38)"/><rect x="272.61" y="735" width="24.81" height="25" fill="rgb(31,31,31)"/><rect x="296.93" y="735" width="24.81" height="25" fill="rgb(26,26,26)"/><rect x="321.24" y="735" width="24.81" height="25" fill="rgb(33,33,33)"/><rect x="345.55" y="735" width="24.81" height="25" fill="rgb(38,38,38)"/><rect x="369.86" y="735" width="24.81" height="25" fill="rgb(41,41,41)"/><rect x="394.18" y="735" width="24.81" height="25" fill="rgb(36,36,36)"/><rect x="418.49" y="735" width="24.81" height="25" fill="rgb(46,46,46)"/><rect x="442.8" y="735" width="24.81" height="25" fill="rgb(46,46,46)"/><rect x="223.99" y="759.5" width="24.81" height="25" fill="rgb(33,33,33)"/><rect x="248.3" y="759.5" width="24.81" height="25" fill="rgb(33,33,33)"/><rect x="272.61" y="759.5" width="24.81" height="25" fill="rgb(31,31,31)"/><rect x="296.93" y="759.5" width="24.81" height="25" fill="rgb(31,31,31)"/><rect x="321.24" y="759.5" width="24.81" height="25" fill="rgb(36,36,36)"/><rect x="345.55" y="759.5" width="24.81" height="25" fill="rgb(41,41,41)"/><rect x="369.86" y="759.5" width="24.81" height="25" fill="rgb(36,36,36)"/><rect x="394.18" y="759.5" width="24.81" height="25" fill="rgb(31,31,31)"/><rect x="418.49" y="759.5" width="24.81" height="25" fill="rgb(38,38,38)"/><rect x="442.8" y="759.5" width="24.81" height="25" fill="rgb(38,38,38)"/><rect x="223.99" y="784" width="24.81" height="25" fill="rgb(33,33,33)"/><rect x="248.3" y="784" width="24.81" height="25" fill="rgb(33,33,33)"/><rect x="272.61" y="784" width="24.81" height="25" fill="rgb(31,31,31)"/><rect x="296.93" y="784" width="24.81" height="25" fill="rgb(31,31,31)"/><rect x="321.24" y="784" width="24.81" height="25" fill="rgb(36,36,36)"/><rect x="345.55" y="784" width="24.81" height="25" fill="rgb(41,41,41)"/><rect x="369.86" y="784" width="24.81" height="25" fill="rgb(36,36,36)"/><rect x="394.18" y="784" width="24.81" height="25" fill="rgb(31,31,31)"/><rect x="418.49" y="784" width="24.81" height="25" fill="rgb(38,38,38)"/><rect x="442.8" y="784" width="24.81" height="25" fill="rgb(38,38,38)"/></g></g><rect x="248.3" y="563.5" width="194.5" height="220.5" fill="none" stroke="#333" stroke-width="1"/><rect x="401.3" y="760" width="36" height="5" fill="#000"/><g clip-path="url(#hc2)"><g filter="url(#hm2)"><rect x="427.79" y="539" width="24.81" height="25" fill="rgb(191,191,191)"/><rect x="452.1" y="539" width="24.81" height="25" fill="rgb(191,191,191)"/><rect x="476.41" y="539" width="24.81" height="25" fill="rgb(178,178,178)"/><rect x="500.73" y="539" width="24.81" height="25" fill="rgb(184,184,184)"/><rect x="525.04" y="539" width="24.81" height="25" fill="rgb(178,178,178)"/><rect x="549.35" y="539" width="24.81" height="25" fill="rgb(166,166,166)"/><rect x="573.66" y="539" width="24.81" height="25" fill="rgb(153,153,153)"/><rect x="597.98" y="539" width="24.81" height="25" fill="rgb(178,178,178)"/><rect x="622.29" y="539" width="24.81" height="25" fill="rgb(184,184,184)"/><rect x="646.6" y="539" width="24.81" height="25" fill="rgb(184,184,184)"/><rect x="427.79" y="563.5" width="24.81" height="25" fill="rgb(191,191,191)"/><rect x="452.1" y="563.5" width="24.81" height="25" fill="rgb(191,191,191)"/><rect x="476.41" y="563.5" width="24.81" height="25" fill="rgb(178,178,178)"/><rect x="500.73" y="563.5" width="24.81" height="25" fill="rgb(184,184,184)"/><rect x="525.04" y="563.5" width="24.81" height="25" fill="rgb(178,178,178)"/><rect x="549.35" y="563.5" width="24.81" height="25" fill="rgb(166,166,166)"/><rect x="573.66" y="563.5" width="24.81" height="25" fill="rgb(153,153,153)"/><rect x="597.98" y="563.5" width="24.81" height="25" fill="rgb(178,178,178)"/><rect x="622.29" y="563.5" width="24.81" height="25" fill="rgb(184,184,184)"/><rect x="646.6" y="563.5" width="24.81" height="25" fill="rgb(184,184,184)"/><rect x="427.79" y="588" width="24.81" height="25" fill="rgb(153,153,153)"/><rect x="452.1" y="588" width="24.81" height="25" fill="rgb(153,153,153)"/><rect x="476.41" y="588" width="24.81" height="25" fill="rgb(178,178,178)"/><rect x="500.73" y="588" width="24.81" height="25" fill="rgb(191,191,191)"/><rect x="525.04" y="588" width="24.81" height="25" fill="rgb(204,204,204)"/><rect x="549.35" y="588" width="24.81" height="25" fill="rgb(178,178,178)"/><rect x="573.66" y="588" width="24.81" height="25" fill="rgb(140,140,140)"/><rect x="597.98" y="588" width="24.81" height="25" fill="rgb(184,184,184)"/><rect x="622.29" y="588" width="24.81" height="25" fill="rgb(178,178,178)"/><rect x="646.6" y="588" width="24.81" height="25" fill="rgb(178,178,178)"/><rect x="427.79" y="612.5" width="24.81" height="25" fill="rgb(173,173,173)"/><rect x="452.1" y="612.5" width="24.81" height="25" fill="rgb(173,173,173)"/><rect x="476.41" y="612.5" width="24.81" height="25" fill="rgb(184,184,184)"/><rect x="500.73" y="612.5" width="24.81" height="25" fill="rgb(178,178,178)"/><rect x="525.04" y="612.5" width="24.81" height="25" fill="rgb(191,191,191)"/><rect x="549.35" y="612.5" width="24.81" height="25" fill="rgb(209,209,209)"/><rect x="573.66" y="612.5" width="24.81" height="25" fill="rgb(178,178,178)"/><rect x="597.98" y="612.5" width="24.81" height="25" fill="rgb(166,166,166)"/><rect x="622.29" y="612.5" width="24.81" height="25" fill="rgb(184,184,184)"/><rect x="646.6" y="612.5" width="24.81" height="25" fill="rgb(184,184,184)"/><rect x="427.79" y="637" width="24.81" height="25" fill="rgb(178,178,178)"/><rect x="452.1" y="637" width="24.81" height="25" fill="rgb(178,178,178)"/><rect x="476.41" y="637" width="24.81" height="25" fill="rgb(166,166,166)"/><rect x="500.73" y="637" width="24.81" height="25" fill="rgb(178,178,178)"/><rect x="525.04" y="637" width="24.81" height="25" fill="rgb(184,184,184)"/><rect x="549.35" y="637" width="24.81" height="25" fill="rgb(204,204,204)"/><rect x="573.66" y="637" width="24.81" height="25" fill="rgb(166,166,166)"/><rect x="597.98" y="637" width="24.81" height="25" fill="rgb(184,184,184)"/><rect x="622.29" y="637" width="24.81" height="25" fill="rgb(191,191,191)"/><rect x="646.6" y="637" width="24.81" height="25" fill="rgb(191,191,191)"/><rect x="427.79" y="661.5" width="24.81" height="25" fill="rgb(178,178,178)"/><rect x="452.1" y="661.5" width="24.81" height="25" fill="rgb(178,178,178)"/><rect x="476.41" y="661.5" width="24.81" height="25" fill="rgb(166,166,166)"/><rect x="500.73" y="661.5" width="24.81" height="25" fill="rgb(128,128,128)"/><rect x="525.04" y="661.5" width="24.81" height="25" fill="rgb(153,153,153)"/><rect x="549.35" y="661.5" width="24.81" height="25" fill="rgb(153,153,153)"/><rect x="573.66" y="661.5" width="24.81" height="25" fill="rgb(173,173,173)"/><rect x="597.98" y="661.5" width="24.81" height="25" fill="rgb(178,178,178)"/><rect x="622.29" y="661.5" width="24.81" height="25" fill="rgb(184,184,184)"/><rect x="646.6" y="661.5" width="24.81" height="25" fill="rgb(184,184,184)"/><rect x="427.79" y="686" width="24.81" height="25" fill="rgb(184,184,184)"/><rect x="452.1" y="686" width="24.81" height="25" fill="rgb(184,184,184)"/><rect x="476.41" y="686" width="24.81" height="25" fill="rgb(153,153,153)"/><rect x="500.73" y="686" width="24.81" height="25" fill="rgb(184,184,184)"/><rect x="525.04" y="686" width="24.81" height="25" fill="rgb(209,209,209)"/><rect x="549.35" y="686" width="24.81" height="25" fill="rgb(184,184,184)"/><rect x="573.66" y="686" width="24.81" height="25" fill="rgb(173,173,173)"/><rect x="597.98" y="686" width="24.81" height="25" fill="rgb(178,178,178)"/><rect x="622.29" y="686" width="24.81" height="25" fill="rgb(178,178,178)"/><rect x="646.6" y="686" width="24.81" height="25" fill="rgb(178,178,178)"/><rect x="427.79" y="710.5" width="24.81" height="25" fill="rgb(178,178,178)"/><rect x="452.1" y="710.5" width="24.81" height="25" fill="rgb(178,178,178)"/><rect x="476.41" y="710.5" width="24.81" height="25" fill="rgb(191,191,191)"/><rect x="500.73" y="710.5" width="24.81" height="25" fill="rgb(184,184,184)"/><rect x="525.04" y="710.5" width="24.81" height="25" fill="rgb(204,204,204)"/><rect x="549.35" y="710.5" width="24.81" height="25" fill="rgb(217,217,217)"/><rect x="573.66" y="710.5" width="24.81" height="25" fill="rgb(184,184,184)"/><rect x="597.98" y="710.5" width="24.81" height="25" fill="rgb(191,191,191)"/><rect x="622.29" y="710.5" width="24.81" height="25" fill="rgb(184,184,184)"/><rect x="646.6" y="710.5" width="24.81" height="25" fill="rgb(184,184,184)"/><rect x="427.79" y="735" width="24.81" height="25" fill="rgb(184,184,184)"/><rect x="452.1" y="735" width="24.81" height="25" fill="rgb(184,184,184)"/><rect x="476.41" y="735" width="24.81" height="25" fill="rgb(204,204,204)"/><rect x="500.73" y="735" width="24.81" height="25" fill="rgb(184,184,184)"/><rect x="525.04" y="735" width="24.81" height="25" fill="rgb(191,191,191)"/><rect x="549.35" y="735" width="24.81" height="25" fill="rgb(184,184,184)"/><rect x="573.66" y="735" width="24.81" height="25" fill="rgb(204,204,204)"/><rect x="597.98" y="735" width="24.81" height="25" fill="rgb(191,191,191)"/><rect x="622.29" y="735" width="24.81" height="25" fill="rgb(199,199,199)"/><rect x="646.6" y="735" width="24.81" height="25" fill="rgb(199,199,199)"/><rect x="427.79" y="759.5" width="24.81" height="25" fill="rgb(178,178,178)"/><rect x="452.1" y="759.5" width="24.81" height="25" fill="rgb(178,178,178)"/><rect x="476.41" y="759.5" width="24.81" height="25" fill="rgb(115,115,115)"/><rect x="500.73" y="759.5" width="24.81" height="25" fill="rgb(158,158,158)"/><rect x="525.04" y="759.5" width="24.81" height="25" fill="rgb(178,178,178)"/><rect x="549.35" y="759.5" width="24.81" height="25" fill="rgb(178,178,178)"/><rect x="573.66" y="759.5" width="24.81" height="25" fill="rgb(178,178,178)"/><rect x="597.98" y="759.5" width="24.81" height="25" fill="rgb(199,199,199)"/><rect x="622.29" y="759.5" width="24.81" height="25" fill="rgb(224,224,224)"/><rect x="646.6" y="759.5" width="24.81" height="25" fill="rgb(224,224,224)"/><rect x="427.79" y="784" width="24.81" height="25" fill="rgb(178,178,178)"/><rect x="452.1" y="784" width="24.81" height="25" fill="rgb(178,178,178)"/><rect x="476.41" y="784" width="24.81" height="25" fill="rgb(115,115,115)"/><rect x="500.73" y="784" width="24.81" height="25" fill="rgb(158,158,158)"/><rect x="525.04" y="784" width="24.81" height="25" fill="rgb(178,178,178)"/><rect x="549.35" y="784" width="24.81" height="25" fill="rgb(178,178,178)"/><rect x="573.66" y="784" width="24.81" height="25" fill="rgb(178,178,178)"/><rect x="597.98" y="784" width="24.81" height="25" fill="rgb(199,199,199)"/><rect x="622.29" y="784" width="24.81" height="25" fill="rgb(224,224,224)"/><rect x="646.6" y="784" width="24.81" height="25" fill="rgb(224,224,224)"/></g></g><rect x="452.1" y="563.5" width="194.5" height="220.5" fill="none" stroke="#333" stroke-width="1"/><rect x="605.1" y="760" width="36" height="5" fill="#000"/><g clip-path="url(#hc3)"><g filter="url(#hm3)"><rect x="631.79" y="539" width="24.81" height="25" fill="rgb(209,209,209)"/><rect x="656.1" y="539" width="24.81" height="25" fill="rgb(209,209,209)"/><rect x="680.41" y="539" width="24.81" height="25" fill="rgb(199,199,199)"/><rect x="704.73" y="539" width="24.81" height="25" fill="rgb(191,191,191)"/><rect x="729.04" y="539" width="24.81" height="25" fill="rgb(199,199,199)"/><rect x="753.35" y="539" width="24.81" height="25" fill="rgb(230,230,230)"/><rect x="777.66" y="539" width="24.81" height="25" fill="rgb(204,204,204)"/><rect x="801.98" y="539" width="24.81" height="25" fill="rgb(199,199,199)"/><rect x="826.29" y="539" width="24.81" height="25" fill="rgb(217,217,217)"/><rect x="850.6" y="539" width="24.81" height="25" fill="rgb(217,217,217)"/><rect x="631.79" y="563.5" width="24.81" height="25" fill="rgb(209,209,209)"/><rect x="656.1" y="563.5" width="24.81" height="25" fill="rgb(209,209,209)"/><rect x="680.41" y="563.5" width="24.81" height="25" fill="rgb(199,199,199)"/><rect x="704.73" y="563.5" width="24.81" height="25" fill="rgb(191,191,191)"/><rect x="729.04" y="563.5" width="24.81" height="25" fill="rgb(199,199,199)"/><rect x="753.35" y="563.5" width="24.81" height="25" fill="rgb(230,230,230)"/><rect x="777.66" y="563.5" width="24.81" height="25" fill="rgb(204,204,204)"/><rect x="801.98" y="563.5" width="24.81" height="25" fill="rgb(199,199,199)"/><rect x="826.29" y="563.5" width="24.81" height="25" fill="rgb(217,217,217)"/><rect x="850.6" y="563.5" width="24.81" height="25" fill="rgb(217,217,217)"/><rect x="631.79" y="588" width="24.81" height="25" fill="rgb(178,178,178)"/><rect x="656.1" y="588" width="24.81" height="25" fill="rgb(178,178,178)"/><rect x="680.41" y="588" width="24.81" height="25" fill="rgb(184,184,184)"/><rect x="704.73" y="588" width="24.81" height="25" fill="rgb(199,199,199)"/><rect x="729.04" y="588" width="24.81" height="25" fill="rgb(204,204,204)"/><rect x="753.35" y="588" width="24.81" height="25" fill="rgb(191,191,191)"/><rect x="777.66" y="588" width="24.81" height="25" fill="rgb(158,158,158)"/><rect x="801.98" y="588" width="24.81" height="25" fill="rgb(204,204,204)"/><rect x="826.29" y="588" width="24.81" height="25" fill="rgb(217,217,217)"/><rect x="850.6" y="588" width="24.81" height="25" fill="rgb(217,217,217)"/><rect x="631.79" y="612.5" width="24.81" height="25" fill="rgb(191,191,191)"/><rect x="656.1" y="612.5" width="24.81" height="25" fill="rgb(191,191,191)"/><rect x="680.41" y="612.5" width="24.81" height="25" fill="rgb(204,204,204)"/><rect x="704.73" y="612.5" width="24.81" height="25" fill="rgb(199,199,199)"/><rect x="729.04" y="612.5" width="24.81" height="25" fill="rgb(166,166,166)"/><rect x="753.35" y="612.5" width="24.81" height="25" fill="rgb(173,173,173)"/><rect x="777.66" y="612.5" width="24.81" height="25" fill="rgb(204,204,204)"/><rect x="801.98" y="612.5" width="24.81" height="25" fill="rgb(209,209,209)"/><rect x="826.29" y="612.5" width="24.81" height="25" fill="rgb(204,204,204)"/><rect x="850.6" y="612.5" width="24.81" height="25" fill="rgb(204,204,204)"/><rect x="631.79" y="637" width="24.81" height="25" fill="rgb(209,209,209)"/><rect x="656.1" y="637" width="24.81" height="25" fill="rgb(209,209,209)"/><rect x="680.41" y="637" width="24.81" height="25" fill="rgb(184,184,184)"/><rect x="704.73" y="637" width="24.81" height="25" fill="rgb(173,173,173)"/><rect x="729.04" y="637" width="24.81" height="25" fill="rgb(199,199,199)"/><rect x="753.35" y="637" width="24.81" height="25" fill="rgb(184,184,184)"/><rect x="777.66" y="637" width="24.81" height="25" fill="rgb(166,166,166)"/><rect x="801.98" y="637" width="24.81" height="25" fill="rgb(204,204,204)"/><rect x="826.29" y="637" width="24.81" height="25" fill="rgb(191,191,191)"/><rect x="850.6" y="637" width="24.81" height="25" fill="rgb(191,191,191)"/><rect x="631.79" y="661.5" width="24.81" height="25" fill="rgb(217,217,217)"/><rect x="656.1" y="661.5" width="24.81" height="25" fill="rgb(217,217,217)"/><rect x="680.41" y="661.5" width="24.81" height="25" fill="rgb(199,199,199)"/><rect x="704.73" y="661.5" width="24.81" height="25" fill="rgb(178,178,178)"/><rect x="729.04" y="661.5" width="24.81" height="25" fill="rgb(209,209,209)"/><rect x="753.35" y="661.5" width="24.81" height="25" fill="rgb(204,204,204)"/><rect x="777.66" y="661.5" width="24.81" height="25" fill="rgb(184,184,184)"/><rect x="801.98" y="661.5" width="24.81" height="25" fill="rgb(199,199,199)"/><rect x="826.29" y="661.5" width="24.81" height="25" fill="rgb(204,204,204)"/><rect x="850.6" y="661.5" width="24.81" height="25" fill="rgb(204,204,204)"/><rect x="631.79" y="686" width="24.81" height="25" fill="rgb(199,199,199)"/><rect x="656.1" y="686" width="24.81" height="25" fill="rgb(199,199,199)"/><rect x="680.41" y="686" width="24.81" height="25" fill="rgb(204,204,204)"/><rect x="704.73" y="686" width="24.81" height="25" fill="rgb(191,191,191)"/><rect x="729.04" y="686" width="24.81" height="25" fill="rgb(184,184,184)"/><rect x="753.35" y="686" width="24.81" height="25" fill="rgb(173,173,173)"/><rect x="777.66" y="686" width="24.81" height="25" fill="rgb(191,191,191)"/><rect x="801.98" y="686" width="24.81" height="25" fill="rgb(204,204,204)"/><rect x="826.29" y="686" width="24.81" height="25" fill="rgb(199,199,199)"/><rect x="850.6" y="686" width="24.81" height="25" fill="rgb(199,199,199)"/><rect x="631.79" y="710.5" width="24.81" height="25" fill="rgb(209,209,209)"/><rect x="656.1" y="710.5" width="24.81" height="25" fill="rgb(209,209,209)"/><rect x="680.41" y="710.5" width="24.81" height="25" fill="rgb(184,184,184)"/><rect x="704.73" y="710.5" width="24.81" height="25" fill="rgb(178,178,178)"/><rect x="729.04" y="710.5" width="24.81" height="25" fill="rgb(191,191,191)"/><rect x="753.35" y="710.5" width="24.81" height="25" fill="rgb(184,184,184)"/><rect x="777.66" y="710.5" width="24.81" height="25" fill="rgb(204,204,204)"/><rect x="801.98" y="710.5" width="24.81" height="25" fill="rgb(199,199,199)"/><rect x="826.29" y="710.5" width="24.81" height="25" fill="rgb(209,209,209)"/><rect x="850.6" y="710.5" width="24.81" height="25" fill="rgb(209,209,209)"/><rect x="631.79" y="735" width="24.81" height="25" fill="rgb(199,199,199)"/><rect x="656.1" y="735" width="24.81" height="25" fill="rgb(199,199,199)"/><rect x="680.41" y="735" width="24.81" height="25" fill="rgb(166,166,166)"/><rect x="704.73" y="735" width="24.81" height="25" fill="rgb(158,158,158)"/><rect x="729.04" y="735" width="24.81" height="25" fill="rgb(178,178,178)"/><rect x="753.35" y="735" width="24.81" height="25" fill="rgb(204,204,204)"/><rect x="777.66" y="735" width="24.81" height="25" fill="rgb(191,191,191)"/><rect x="801.98" y="735" width="24.81" height="25" fill="rgb(184,184,184)"/><rect x="826.29" y="735" width="24.81" height="25" fill="rgb(199,199,199)"/><rect x="850.6" y="735" width="24.81" height="25" fill="rgb(199,199,199)"/><rect x="631.79" y="759.5" width="24.81" height="25" fill="rgb(204,204,204)"/><rect x="656.1" y="759.5" width="24.81" height="25" fill="rgb(204,204,204)"/><rect x="680.41" y="759.5" width="24.81" height="25" fill="rgb(191,191,191)"/><rect x="704.73" y="759.5" width="24.81" height="25" fill="rgb(184,184,184)"/><rect x="729.04" y="759.5" width="24.81" height="25" fill="rgb(178,178,178)"/><rect x="753.35" y="759.5" width="24.81" height="25" fill="rgb(166,166,166)"/><rect x="777.66" y="759.5" width="24.81" height="25" fill="rgb(199,199,199)"/><rect x="801.98" y="759.5" width="24.81" height="25" fill="rgb(204,204,204)"/><rect x="826.29" y="759.5" width="24.81" height="25" fill="rgb(199,199,199)"/><rect x="850.6" y="759.5" width="24.81" height="25" fill="rgb(199,199,199)"/><rect x="631.79" y="784" width="24.81" height="25" fill="rgb(204,204,204)"/><rect x="656.1" y="784" width="24.81" height="25" fill="rgb(204,204,204)"/><rect x="680.41" y="784" width="24.81" height="25" fill="rgb(191,191,191)"/><rect x="704.73" y="784" width="24.81" height="25" fill="rgb(184,184,184)"/><rect x="729.04" y="784" width="24.81" height="25" fill="rgb(178,178,178)"/><rect x="753.35" y="784" width="24.81" height="25" fill="rgb(166,166,166)"/><rect x="777.66" y="784" width="24.81" height="25" fill="rgb(199,199,199)"/><rect x="801.98" y="784" width="24.81" height="25" fill="rgb(204,204,204)"/><rect x="826.29" y="784" width="24.81" height="25" fill="rgb(199,199,199)"/><rect x="850.6" y="784" width="24.81" height="25" fill="rgb(199,199,199)"/></g></g><rect x="656.1" y="563.5" width="194.5" height="220.5" fill="none" stroke="#333" stroke-width="1"/><rect x="809.1" y="760" width="36" height="5" fill="#000"/><rect x="860" y="563.2" width="16.5" height="220.6" fill="url(#cbar)" stroke="#333" stroke-width="1"/><line x1="876.5" y1="758.4" x2="881" y2="758.4" stroke="#222" stroke-width="1.2"/><text x="0" y="0" transform="translate(886.5,762.9) scale(1.12,1)" font-size="12.5" text-anchor="start" fill="#222" font-weight="normal" >1</text><line x1="876.5" y1="702.8" x2="881" y2="702.8" stroke="#222" stroke-width="1.2"/><text x="0" y="0" transform="translate(886.5,707.3) scale(1.12,1)" font-size="12.5" text-anchor="start" fill="#222" font-weight="normal" >2</text><line x1="876.5" y1="647.2" x2="881" y2="647.2" stroke="#222" stroke-width="1.2"/><text x="0" y="0" transform="translate(886.5,651.7) scale(1.12,1)" font-size="12.5" text-anchor="start" fill="#222" font-weight="normal" >3</text><line x1="876.5" y1="591.6" x2="881" y2="591.6" stroke="#222" stroke-width="1.2"/><text x="0" y="0" transform="translate(886.5,596.1) scale(1.12,1)" font-size="12.5" text-anchor="start" fill="#222" font-weight="normal" >4</text><text x="0" y="0" font-size="14.5" text-anchor="middle" fill="#222" font-weight="normal" transform="translate(907.8,674.3) rotate(90)" letter-spacing="0.4">Current (nA)</text><text x="79.6" y="806.8" font-size="14.5" text-anchor="start" fill="#222" font-weight="normal" >(1) With PEACl</text><text x="99.7" y="823.4" font-size="14.5" text-anchor="start" fill="#222" font-weight="normal" letter-spacing="0.6">pristine sample</text><text x="289" y="806.8" font-size="14.5" text-anchor="start" fill="#222" font-weight="normal" >(2) With PEACl</text><text x="309.4" y="823.4" font-size="14.5" text-anchor="start" fill="#222" font-weight="normal" letter-spacing="0.6">aged sample</text><text x="480" y="806.8" font-size="14.5" text-anchor="start" fill="#222" font-weight="normal" >(3) Without PEACl</text><text x="504" y="823.4" font-size="14.5" text-anchor="start" fill="#222" font-weight="normal" letter-spacing="0.6">pristine sample</text><text x="688" y="806.8" font-size="14.5" text-anchor="start" fill="#222" font-weight="normal" >(4) Without PEACl</text><text x="712" y="823.4" font-size="14.5" text-anchor="start" fill="#222" font-weight="normal" letter-spacing="0.6">aged sample</text>
<text x="957.3" y="553.4" font-size="21.5" text-anchor="start" fill="#000" font-weight="bold" stroke="#000" stroke-width="0.9">f</text><rect x="974.5" y="672.4" width="38.3" height="128.3" fill="#bba9d6" stroke="#3a3a3a" stroke-width="1.4"/><line x1="973.5" y1="672.4" x2="1013.8" y2="672.4" stroke="#111" stroke-width="2.6"/><line x1="993.65" y1="672.4" x2="993.65" y2="660.52" stroke="#222" stroke-width="1.3"/><line x1="984.65" y1="660.52" x2="1002.65" y2="660.52" stroke="#222" stroke-width="1.3"/><rect x="986.1" y="655.72" width="8.4" height="8.4" fill="#3d3d3d" transform="rotate(45 990.3 659.92)"/><rect x="986.6" y="667.6" width="8.4" height="8.4" fill="#3d3d3d" transform="rotate(45 990.8 671.8)"/><rect x="993.8" y="676.51" width="8.4" height="8.4" fill="#3d3d3d" transform="rotate(45 998 680.71)"/><rect x="983.2" y="684.23" width="8.4" height="8.4" fill="#3d3d3d" transform="rotate(45 987.4 688.43)"/><rect x="1032.2" y="733.58" width="38.2" height="67.12" fill="#bba9d6" stroke="#3a3a3a" stroke-width="1.4"/><line x1="1031.2" y1="733.58" x2="1071.4" y2="733.58" stroke="#111" stroke-width="2.6"/><line x1="1051.3" y1="733.58" x2="1051.3" y2="730.01" stroke="#222" stroke-width="1.3"/><line x1="1042.3" y1="730.01" x2="1060.3" y2="730.01" stroke="#222" stroke-width="1.3"/><rect x="1045.3" y="726.41" width="8.4" height="8.4" fill="#3d3d3d" transform="rotate(45 1049.5 730.61)"/><rect x="1049.3" y="728.19" width="8.4" height="8.4" fill="#3d3d3d" transform="rotate(45 1053.5 732.39)"/><rect x="1047.3" y="731.16" width="8.4" height="8.4" fill="#3d3d3d" transform="rotate(45 1051.5 735.36)"/><rect x="1051.3" y="729.97" width="8.4" height="8.4" fill="#3d3d3d" transform="rotate(45 1055.5 734.17)"/><rect x="1089.8" y="620.72" width="38.1" height="179.98" fill="#fcc493" stroke="#3a3a3a" stroke-width="1.4"/><line x1="1088.8" y1="620.72" x2="1128.9" y2="620.72" stroke="#111" stroke-width="2.6"/><line x1="1108.85" y1="620.72" x2="1108.85" y2="608.24" stroke="#222" stroke-width="1.3"/><line x1="1099.85" y1="608.24" x2="1117.85" y2="608.24" stroke="#222" stroke-width="1.3"/><rect x="1099.7" y="603.45" width="8.4" height="8.4" fill="#3d3d3d" transform="rotate(45 1103.9 607.65)"/><rect x="1097.2" y="609.98" width="8.4" height="8.4" fill="#3d3d3d" transform="rotate(45 1101.4 614.18)"/><rect x="1102.2" y="619.49" width="8.4" height="8.4" fill="#3d3d3d" transform="rotate(45 1106.4 623.69)"/><rect x="1107.2" y="620.68" width="8.4" height="8.4" fill="#3d3d3d" transform="rotate(45 1111.4 624.88)"/><rect x="1107.2" y="628.99" width="8.4" height="8.4" fill="#3d3d3d" transform="rotate(45 1111.4 633.19)"/><rect x="1147.5" y="583.3" width="37.7" height="217.4" fill="#fcc493" stroke="#3a3a3a" stroke-width="1.4"/><line x1="1146.5" y1="583.3" x2="1186.2" y2="583.3" stroke="#111" stroke-width="2.6"/><line x1="1166.35" y1="583.3" x2="1166.35" y2="567.26" stroke="#222" stroke-width="1.3"/><line x1="1157.35" y1="567.26" x2="1175.35" y2="567.26" stroke="#222" stroke-width="1.3"/><rect x="1160.5" y="563.06" width="8.4" height="8.4" fill="#3d3d3d" transform="rotate(45 1164.7 567.26)"/><rect x="1164" y="574.94" width="8.4" height="8.4" fill="#3d3d3d" transform="rotate(45 1168.2 579.14)"/><rect x="1162.3" y="579.1" width="8.4" height="8.4" fill="#3d3d3d" transform="rotate(45 1166.5 583.3)"/><rect x="1162.3" y="589.79" width="8.4" height="8.4" fill="#3d3d3d" transform="rotate(45 1166.5 593.99)"/><rect x="965" y="561.5" width="230.6" height="239.2" fill="none" stroke="#222" stroke-width="1.3"/><line x1="1195.6" y1="800.7" x2="1200.1" y2="800.7" stroke="#222" stroke-width="1.3"/><text x="0" y="0" transform="translate(1201.5,805.2) scale(1.12,1)" font-size="12.5" text-anchor="start" fill="#222" font-weight="normal" >0</text><line x1="1195.6" y1="741.3" x2="1200.1" y2="741.3" stroke="#222" stroke-width="1.3"/><text x="0" y="0" transform="translate(1201.5,745.8) scale(1.12,1)" font-size="12.5" text-anchor="start" fill="#222" font-weight="normal" >1</text><line x1="1195.6" y1="681.9" x2="1200.1" y2="681.9" stroke="#222" stroke-width="1.3"/><text x="0" y="0" transform="translate(1201.5,686.4) scale(1.12,1)" font-size="12.5" text-anchor="start" fill="#222" font-weight="normal" >2</text><line x1="1195.6" y1="622.5" x2="1200.1" y2="622.5" stroke="#222" stroke-width="1.3"/><text x="0" y="0" transform="translate(1201.5,627) scale(1.12,1)" font-size="12.5" text-anchor="start" fill="#222" font-weight="normal" >3</text><line x1="1195.6" y1="563.1" x2="1200.1" y2="563.1" stroke="#222" stroke-width="1.3"/><text x="0" y="0" transform="translate(1201.5,567.6) scale(1.12,1)" font-size="12.5" text-anchor="start" fill="#222" font-weight="normal" >4</text><line x1="993.65" y1="800.7" x2="993.65" y2="804.7" stroke="#222" stroke-width="1.3"/><text x="993.65" y="825.5" font-size="13.5" text-anchor="middle" fill="#222" font-weight="normal" >(1)</text><line x1="1051.3" y1="800.7" x2="1051.3" y2="804.7" stroke="#222" stroke-width="1.3"/><text x="1051.3" y="825.5" font-size="13.5" text-anchor="middle" fill="#222" font-weight="normal" >(2)</text><line x1="1108.85" y1="800.7" x2="1108.85" y2="804.7" stroke="#222" stroke-width="1.3"/><text x="1108.85" y="825.5" font-size="13.5" text-anchor="middle" fill="#222" font-weight="normal" >(3)</text><line x1="1166.35" y1="800.7" x2="1166.35" y2="804.7" stroke="#222" stroke-width="1.3"/><text x="1166.35" y="825.5" font-size="13.5" text-anchor="middle" fill="#222" font-weight="normal" >(4)</text><text x="0" y="0" font-size="14.5" text-anchor="middle" fill="#222" font-weight="normal" transform="translate(1222.5,682) rotate(90)" letter-spacing="0.4">Current (nA)</text>
</svg>
</body></html>
